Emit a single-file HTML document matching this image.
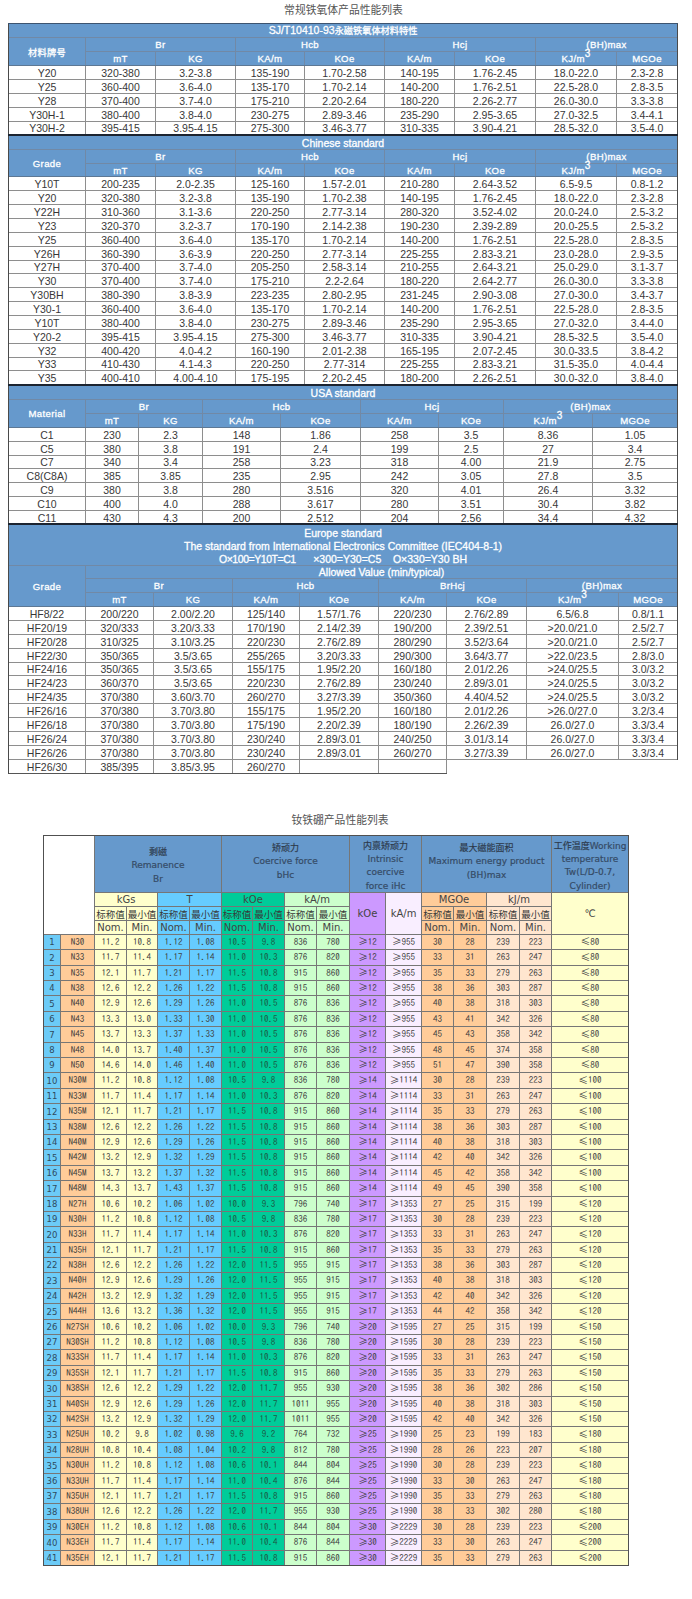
<!DOCTYPE html>
<html><head><meta charset="utf-8"><title>产品性能列表</title>
<style>
html,body{margin:0;padding:0;background:#fff;}
body{width:692px;height:1599px;position:relative;overflow:hidden;font-family:"Liberation Sans","Noto Sans CJK SC",sans-serif;}
.b{position:absolute;box-sizing:border-box;}
.t{position:absolute;display:flex;align-items:center;justify-content:center;white-space:nowrap;box-sizing:border-box;}
.ttl{font-size:10.8px;color:#555;font-family:"Noto Sans CJK SC",sans-serif;}
.th{color:#fff;font-size:9.6px;letter-spacing:0.35px;-webkit-text-stroke:0.3px #fff;}
.tt{color:#fff;font-size:10.5px;-webkit-text-stroke:0.3px #fff;}
.t1{padding-bottom:1px;}
.tt .c,.th .c{font-size:9.2px;}
.th sup{font-size:10px;position:relative;top:-4.5px;vertical-align:baseline;line-height:0;letter-spacing:0;}
.td{color:#383838;font-size:10.5px;}
.h2{color:#354b66;font-size:9px;font-family:"DejaVu Sans","Noto Sans CJK SC",sans-serif;-webkit-text-stroke:0.2px #354b66;}
.h2 .cj{font-family:"Noto Sans CJK SC",sans-serif;font-size:9px;color:#2a3340;}
.u2{color:#444;font-size:10px;font-family:"DejaVu Sans","Noto Sans CJK SC",sans-serif;}
.c2{color:#383838;font-size:9.5px;font-family:"Noto Sans CJK SC",sans-serif;}
.ix{color:#2f4a5e;font-size:8.5px;font-family:"DejaVu Sans",sans-serif;}
.gd{color:#3a3a3a;font-size:9px;font-family:"IPAGothic",monospace;padding-bottom:2px;}
.nm{color:#404040;font-size:9px;font-family:"IPAGothic",monospace;padding-bottom:2px;}
.gr{color:#1d5844;}
.g{font-family:"Noto Sans CJK SC",sans-serif;font-size:9.5px;}
</style></head><body>
<div class="t ttl" style="left:0;top:1px;width:687px;height:15px">常规铁氧体产品性能列表</div>
<div class="b" style="left:8px;top:23px;width:670px;height:43px;background:#6699cc;"></div>
<div class="t tt t1" style="left:9px;top:24px;width:668px;height:13px;">SJ/T10410-93<span class="c">永磁铁氧体材料特性</span></div>
<div class="b" style="left:8px;top:37px;width:670px;height:1px;background:#7189a6"></div>
<div class="b" style="left:85px;top:51px;width:593px;height:1px;background:#7189a6"></div>
<div class="b" style="left:85px;top:37px;width:1px;height:29px;background:#7189a6"></div>
<div class="b" style="left:235px;top:37px;width:1px;height:29px;background:#7189a6"></div>
<div class="b" style="left:384px;top:37px;width:1px;height:29px;background:#7189a6"></div>
<div class="b" style="left:535px;top:37px;width:1px;height:29px;background:#7189a6"></div>
<div class="b" style="left:155px;top:51px;width:1px;height:15px;background:#7189a6"></div>
<div class="b" style="left:304px;top:51px;width:1px;height:15px;background:#7189a6"></div>
<div class="b" style="left:454px;top:51px;width:1px;height:15px;background:#7189a6"></div>
<div class="b" style="left:616px;top:51px;width:1px;height:15px;background:#7189a6"></div>
<div class="t th" style="left:9px;top:38px;width:76px;height:27px;"><span class="c">材料牌号</span></div>
<div class="t th" style="left:86px;top:38px;width:149px;height:13px;">Br</div>
<div class="t th" style="left:236px;top:38px;width:148px;height:13px;">Hcb</div>
<div class="t th" style="left:385px;top:38px;width:150px;height:13px;">Hcj</div>
<div class="t th" style="left:536px;top:38px;width:141px;height:13px;">(BH)max</div>
<div class="t th" style="left:86px;top:52px;width:69px;height:13px;">mT</div>
<div class="t th" style="left:156px;top:52px;width:79px;height:13px;">KG</div>
<div class="t th" style="left:236px;top:52px;width:68px;height:13px;">KA/m</div>
<div class="t th" style="left:305px;top:52px;width:79px;height:13px;">KOe</div>
<div class="t th" style="left:385px;top:52px;width:69px;height:13px;">KA/m</div>
<div class="t th" style="left:455px;top:52px;width:80px;height:13px;">KOe</div>
<div class="t th" style="left:536px;top:52px;width:80px;height:13px;">KJ/m<sup>3</sup></div>
<div class="t th" style="left:617px;top:52px;width:60px;height:13px;">MGOe</div>
<div class="t td" style="left:9px;top:66px;width:76px;height:13px;">Y20</div>
<div class="t td" style="left:86px;top:66px;width:69px;height:13px;">320-380</div>
<div class="t td" style="left:156px;top:66px;width:79px;height:13px;">3.2-3.8</div>
<div class="t td" style="left:236px;top:66px;width:68px;height:13px;">135-190</div>
<div class="t td" style="left:305px;top:66px;width:79px;height:13px;">1.70-2.58</div>
<div class="t td" style="left:385px;top:66px;width:69px;height:13px;">140-195</div>
<div class="t td" style="left:455px;top:66px;width:80px;height:13px;">1.76-2.45</div>
<div class="t td" style="left:536px;top:66px;width:80px;height:13px;">18.0-22.0</div>
<div class="t td" style="left:617px;top:66px;width:60px;height:13px;">2.3-2.8</div>
<div class="t td" style="left:9px;top:80px;width:76px;height:13px;">Y25</div>
<div class="t td" style="left:86px;top:80px;width:69px;height:13px;">360-400</div>
<div class="t td" style="left:156px;top:80px;width:79px;height:13px;">3.6-4.0</div>
<div class="t td" style="left:236px;top:80px;width:68px;height:13px;">135-170</div>
<div class="t td" style="left:305px;top:80px;width:79px;height:13px;">1.70-2.14</div>
<div class="t td" style="left:385px;top:80px;width:69px;height:13px;">140-200</div>
<div class="t td" style="left:455px;top:80px;width:80px;height:13px;">1.76-2.51</div>
<div class="t td" style="left:536px;top:80px;width:80px;height:13px;">22.5-28.0</div>
<div class="t td" style="left:617px;top:80px;width:60px;height:13px;">2.8-3.5</div>
<div class="t td" style="left:9px;top:94px;width:76px;height:13px;">Y28</div>
<div class="t td" style="left:86px;top:94px;width:69px;height:13px;">370-400</div>
<div class="t td" style="left:156px;top:94px;width:79px;height:13px;">3.7-4.0</div>
<div class="t td" style="left:236px;top:94px;width:68px;height:13px;">175-210</div>
<div class="t td" style="left:305px;top:94px;width:79px;height:13px;">2.20-2.64</div>
<div class="t td" style="left:385px;top:94px;width:69px;height:13px;">180-220</div>
<div class="t td" style="left:455px;top:94px;width:80px;height:13px;">2.26-2.77</div>
<div class="t td" style="left:536px;top:94px;width:80px;height:13px;">26.0-30.0</div>
<div class="t td" style="left:617px;top:94px;width:60px;height:13px;">3.3-3.8</div>
<div class="t td" style="left:9px;top:108px;width:76px;height:13px;">Y30H-1</div>
<div class="t td" style="left:86px;top:108px;width:69px;height:13px;">380-400</div>
<div class="t td" style="left:156px;top:108px;width:79px;height:13px;">3.8-4.0</div>
<div class="t td" style="left:236px;top:108px;width:68px;height:13px;">230-275</div>
<div class="t td" style="left:305px;top:108px;width:79px;height:13px;">2.89-3.46</div>
<div class="t td" style="left:385px;top:108px;width:69px;height:13px;">235-290</div>
<div class="t td" style="left:455px;top:108px;width:80px;height:13px;">2.95-3.65</div>
<div class="t td" style="left:536px;top:108px;width:80px;height:13px;">27.0-32.5</div>
<div class="t td" style="left:617px;top:108px;width:60px;height:13px;">3.4-4.1</div>
<div class="t td" style="left:9px;top:122px;width:76px;height:12px;">Y30H-2</div>
<div class="t td" style="left:86px;top:122px;width:69px;height:12px;">395-415</div>
<div class="t td" style="left:156px;top:122px;width:79px;height:12px;">3.95-4.15</div>
<div class="t td" style="left:236px;top:122px;width:68px;height:12px;">275-300</div>
<div class="t td" style="left:305px;top:122px;width:79px;height:12px;">3.46-3.77</div>
<div class="t td" style="left:385px;top:122px;width:69px;height:12px;">310-335</div>
<div class="t td" style="left:455px;top:122px;width:80px;height:12px;">3.90-4.21</div>
<div class="t td" style="left:536px;top:122px;width:80px;height:12px;">28.5-32.0</div>
<div class="t td" style="left:617px;top:122px;width:60px;height:12px;">3.5-4.0</div>
<div class="b" style="left:8px;top:79px;width:670px;height:1px;background:#8e8e8e"></div>
<div class="b" style="left:8px;top:93px;width:670px;height:1px;background:#8e8e8e"></div>
<div class="b" style="left:8px;top:107px;width:670px;height:1px;background:#8e8e8e"></div>
<div class="b" style="left:8px;top:121px;width:670px;height:1px;background:#8e8e8e"></div>
<div class="b" style="left:85px;top:65px;width:1px;height:70px;background:#8e8e8e"></div>
<div class="b" style="left:155px;top:65px;width:1px;height:70px;background:#8e8e8e"></div>
<div class="b" style="left:235px;top:65px;width:1px;height:70px;background:#8e8e8e"></div>
<div class="b" style="left:304px;top:65px;width:1px;height:70px;background:#8e8e8e"></div>
<div class="b" style="left:384px;top:65px;width:1px;height:70px;background:#8e8e8e"></div>
<div class="b" style="left:454px;top:65px;width:1px;height:70px;background:#8e8e8e"></div>
<div class="b" style="left:535px;top:65px;width:1px;height:70px;background:#8e8e8e"></div>
<div class="b" style="left:616px;top:65px;width:1px;height:70px;background:#8e8e8e"></div>
<div class="b" style="left:8px;top:65px;width:670px;height:1px;background:#5d7894"></div>
<div class="b" style="left:8px;top:136px;width:670px;height:41px;background:#6699cc;"></div>
<div class="t tt t1" style="left:9px;top:137px;width:668px;height:12px;">Chinese standard</div>
<div class="b" style="left:8px;top:149px;width:670px;height:1px;background:#7189a6"></div>
<div class="b" style="left:85px;top:163px;width:593px;height:1px;background:#7189a6"></div>
<div class="b" style="left:85px;top:149px;width:1px;height:28px;background:#7189a6"></div>
<div class="b" style="left:235px;top:149px;width:1px;height:28px;background:#7189a6"></div>
<div class="b" style="left:384px;top:149px;width:1px;height:28px;background:#7189a6"></div>
<div class="b" style="left:535px;top:149px;width:1px;height:28px;background:#7189a6"></div>
<div class="b" style="left:155px;top:163px;width:1px;height:14px;background:#7189a6"></div>
<div class="b" style="left:304px;top:163px;width:1px;height:14px;background:#7189a6"></div>
<div class="b" style="left:454px;top:163px;width:1px;height:14px;background:#7189a6"></div>
<div class="b" style="left:616px;top:163px;width:1px;height:14px;background:#7189a6"></div>
<div class="t th" style="left:9px;top:150px;width:76px;height:26px;">Grade</div>
<div class="t th" style="left:86px;top:150px;width:149px;height:13px;">Br</div>
<div class="t th" style="left:236px;top:150px;width:148px;height:13px;">Hcb</div>
<div class="t th" style="left:385px;top:150px;width:150px;height:13px;">Hcj</div>
<div class="t th" style="left:536px;top:150px;width:141px;height:13px;">(BH)max</div>
<div class="t th" style="left:86px;top:164px;width:69px;height:12px;">mT</div>
<div class="t th" style="left:156px;top:164px;width:79px;height:12px;">KG</div>
<div class="t th" style="left:236px;top:164px;width:68px;height:12px;">KA/m</div>
<div class="t th" style="left:305px;top:164px;width:79px;height:12px;">KOe</div>
<div class="t th" style="left:385px;top:164px;width:69px;height:12px;">KA/m</div>
<div class="t th" style="left:455px;top:164px;width:80px;height:12px;">KOe</div>
<div class="t th" style="left:536px;top:164px;width:80px;height:12px;">KJ/m<sup>3</sup></div>
<div class="t th" style="left:617px;top:164px;width:60px;height:12px;">MGOe</div>
<div class="t td" style="left:9px;top:177px;width:76px;height:13px;">Y10T</div>
<div class="t td" style="left:86px;top:177px;width:69px;height:13px;">200-235</div>
<div class="t td" style="left:156px;top:177px;width:79px;height:13px;">2.0-2.35</div>
<div class="t td" style="left:236px;top:177px;width:68px;height:13px;">125-160</div>
<div class="t td" style="left:305px;top:177px;width:79px;height:13px;">1.57-2.01</div>
<div class="t td" style="left:385px;top:177px;width:69px;height:13px;">210-280</div>
<div class="t td" style="left:455px;top:177px;width:80px;height:13px;">2.64-3.52</div>
<div class="t td" style="left:536px;top:177px;width:80px;height:13px;">6.5-9.5</div>
<div class="t td" style="left:617px;top:177px;width:60px;height:13px;">0.8-1.2</div>
<div class="t td" style="left:9px;top:191px;width:76px;height:13px;">Y20</div>
<div class="t td" style="left:86px;top:191px;width:69px;height:13px;">320-380</div>
<div class="t td" style="left:156px;top:191px;width:79px;height:13px;">3.2-3.8</div>
<div class="t td" style="left:236px;top:191px;width:68px;height:13px;">135-190</div>
<div class="t td" style="left:305px;top:191px;width:79px;height:13px;">1.70-2.38</div>
<div class="t td" style="left:385px;top:191px;width:69px;height:13px;">140-195</div>
<div class="t td" style="left:455px;top:191px;width:80px;height:13px;">1.76-2.45</div>
<div class="t td" style="left:536px;top:191px;width:80px;height:13px;">18.0-22.0</div>
<div class="t td" style="left:617px;top:191px;width:60px;height:13px;">2.3-2.8</div>
<div class="t td" style="left:9px;top:205px;width:76px;height:13px;">Y22H</div>
<div class="t td" style="left:86px;top:205px;width:69px;height:13px;">310-360</div>
<div class="t td" style="left:156px;top:205px;width:79px;height:13px;">3.1-3.6</div>
<div class="t td" style="left:236px;top:205px;width:68px;height:13px;">220-250</div>
<div class="t td" style="left:305px;top:205px;width:79px;height:13px;">2.77-3.14</div>
<div class="t td" style="left:385px;top:205px;width:69px;height:13px;">280-320</div>
<div class="t td" style="left:455px;top:205px;width:80px;height:13px;">3.52-4.02</div>
<div class="t td" style="left:536px;top:205px;width:80px;height:13px;">20.0-24.0</div>
<div class="t td" style="left:617px;top:205px;width:60px;height:13px;">2.5-3.2</div>
<div class="t td" style="left:9px;top:219px;width:76px;height:13px;">Y23</div>
<div class="t td" style="left:86px;top:219px;width:69px;height:13px;">320-370</div>
<div class="t td" style="left:156px;top:219px;width:79px;height:13px;">3.2-3.7</div>
<div class="t td" style="left:236px;top:219px;width:68px;height:13px;">170-190</div>
<div class="t td" style="left:305px;top:219px;width:79px;height:13px;">2.14-2.38</div>
<div class="t td" style="left:385px;top:219px;width:69px;height:13px;">190-230</div>
<div class="t td" style="left:455px;top:219px;width:80px;height:13px;">2.39-2.89</div>
<div class="t td" style="left:536px;top:219px;width:80px;height:13px;">20.0-25.5</div>
<div class="t td" style="left:617px;top:219px;width:60px;height:13px;">2.5-3.2</div>
<div class="t td" style="left:9px;top:233px;width:76px;height:13px;">Y25</div>
<div class="t td" style="left:86px;top:233px;width:69px;height:13px;">360-400</div>
<div class="t td" style="left:156px;top:233px;width:79px;height:13px;">3.6-4.0</div>
<div class="t td" style="left:236px;top:233px;width:68px;height:13px;">135-170</div>
<div class="t td" style="left:305px;top:233px;width:79px;height:13px;">1.70-2.14</div>
<div class="t td" style="left:385px;top:233px;width:69px;height:13px;">140-200</div>
<div class="t td" style="left:455px;top:233px;width:80px;height:13px;">1.76-2.51</div>
<div class="t td" style="left:536px;top:233px;width:80px;height:13px;">22.5-28.0</div>
<div class="t td" style="left:617px;top:233px;width:60px;height:13px;">2.8-3.5</div>
<div class="t td" style="left:9px;top:247px;width:76px;height:13px;">Y26H</div>
<div class="t td" style="left:86px;top:247px;width:69px;height:13px;">360-390</div>
<div class="t td" style="left:156px;top:247px;width:79px;height:13px;">3.6-3.9</div>
<div class="t td" style="left:236px;top:247px;width:68px;height:13px;">220-250</div>
<div class="t td" style="left:305px;top:247px;width:79px;height:13px;">2.77-3.14</div>
<div class="t td" style="left:385px;top:247px;width:69px;height:13px;">225-255</div>
<div class="t td" style="left:455px;top:247px;width:80px;height:13px;">2.83-3.21</div>
<div class="t td" style="left:536px;top:247px;width:80px;height:13px;">23.0-28.0</div>
<div class="t td" style="left:617px;top:247px;width:60px;height:13px;">2.9-3.5</div>
<div class="t td" style="left:9px;top:261px;width:76px;height:12px;">Y27H</div>
<div class="t td" style="left:86px;top:261px;width:69px;height:12px;">370-400</div>
<div class="t td" style="left:156px;top:261px;width:79px;height:12px;">3.7-4.0</div>
<div class="t td" style="left:236px;top:261px;width:68px;height:12px;">205-250</div>
<div class="t td" style="left:305px;top:261px;width:79px;height:12px;">2.58-3.14</div>
<div class="t td" style="left:385px;top:261px;width:69px;height:12px;">210-255</div>
<div class="t td" style="left:455px;top:261px;width:80px;height:12px;">2.64-3.21</div>
<div class="t td" style="left:536px;top:261px;width:80px;height:12px;">25.0-29.0</div>
<div class="t td" style="left:617px;top:261px;width:60px;height:12px;">3.1-3.7</div>
<div class="t td" style="left:9px;top:274px;width:76px;height:13px;">Y30</div>
<div class="t td" style="left:86px;top:274px;width:69px;height:13px;">370-400</div>
<div class="t td" style="left:156px;top:274px;width:79px;height:13px;">3.7-4.0</div>
<div class="t td" style="left:236px;top:274px;width:68px;height:13px;">175-210</div>
<div class="t td" style="left:305px;top:274px;width:79px;height:13px;">2.2-2.64</div>
<div class="t td" style="left:385px;top:274px;width:69px;height:13px;">180-220</div>
<div class="t td" style="left:455px;top:274px;width:80px;height:13px;">2.64-2.77</div>
<div class="t td" style="left:536px;top:274px;width:80px;height:13px;">26.0-30.0</div>
<div class="t td" style="left:617px;top:274px;width:60px;height:13px;">3.3-3.8</div>
<div class="t td" style="left:9px;top:288px;width:76px;height:13px;">Y30BH</div>
<div class="t td" style="left:86px;top:288px;width:69px;height:13px;">380-390</div>
<div class="t td" style="left:156px;top:288px;width:79px;height:13px;">3.8-3.9</div>
<div class="t td" style="left:236px;top:288px;width:68px;height:13px;">223-235</div>
<div class="t td" style="left:305px;top:288px;width:79px;height:13px;">2.80-2.95</div>
<div class="t td" style="left:385px;top:288px;width:69px;height:13px;">231-245</div>
<div class="t td" style="left:455px;top:288px;width:80px;height:13px;">2.90-3.08</div>
<div class="t td" style="left:536px;top:288px;width:80px;height:13px;">27.0-30.0</div>
<div class="t td" style="left:617px;top:288px;width:60px;height:13px;">3.4-3.7</div>
<div class="t td" style="left:9px;top:302px;width:76px;height:13px;">Y30-1</div>
<div class="t td" style="left:86px;top:302px;width:69px;height:13px;">360-400</div>
<div class="t td" style="left:156px;top:302px;width:79px;height:13px;">3.6-4.0</div>
<div class="t td" style="left:236px;top:302px;width:68px;height:13px;">135-170</div>
<div class="t td" style="left:305px;top:302px;width:79px;height:13px;">1.70-2.14</div>
<div class="t td" style="left:385px;top:302px;width:69px;height:13px;">140-200</div>
<div class="t td" style="left:455px;top:302px;width:80px;height:13px;">1.76-2.51</div>
<div class="t td" style="left:536px;top:302px;width:80px;height:13px;">22.5-28.0</div>
<div class="t td" style="left:617px;top:302px;width:60px;height:13px;">2.8-3.5</div>
<div class="t td" style="left:9px;top:316px;width:76px;height:13px;">Y10T</div>
<div class="t td" style="left:86px;top:316px;width:69px;height:13px;">380-400</div>
<div class="t td" style="left:156px;top:316px;width:79px;height:13px;">3.8-4.0</div>
<div class="t td" style="left:236px;top:316px;width:68px;height:13px;">230-275</div>
<div class="t td" style="left:305px;top:316px;width:79px;height:13px;">2.89-3.46</div>
<div class="t td" style="left:385px;top:316px;width:69px;height:13px;">235-290</div>
<div class="t td" style="left:455px;top:316px;width:80px;height:13px;">2.95-3.65</div>
<div class="t td" style="left:536px;top:316px;width:80px;height:13px;">27.0-32.0</div>
<div class="t td" style="left:617px;top:316px;width:60px;height:13px;">3.4-4.0</div>
<div class="t td" style="left:9px;top:330px;width:76px;height:13px;">Y20-2</div>
<div class="t td" style="left:86px;top:330px;width:69px;height:13px;">395-415</div>
<div class="t td" style="left:156px;top:330px;width:79px;height:13px;">3.95-4.15</div>
<div class="t td" style="left:236px;top:330px;width:68px;height:13px;">275-300</div>
<div class="t td" style="left:305px;top:330px;width:79px;height:13px;">3.46-3.77</div>
<div class="t td" style="left:385px;top:330px;width:69px;height:13px;">310-335</div>
<div class="t td" style="left:455px;top:330px;width:80px;height:13px;">3.90-4.21</div>
<div class="t td" style="left:536px;top:330px;width:80px;height:13px;">28.5-32.5</div>
<div class="t td" style="left:617px;top:330px;width:60px;height:13px;">3.5-4.0</div>
<div class="t td" style="left:9px;top:344px;width:76px;height:13px;">Y32</div>
<div class="t td" style="left:86px;top:344px;width:69px;height:13px;">400-420</div>
<div class="t td" style="left:156px;top:344px;width:79px;height:13px;">4.0-4.2</div>
<div class="t td" style="left:236px;top:344px;width:68px;height:13px;">160-190</div>
<div class="t td" style="left:305px;top:344px;width:79px;height:13px;">2.01-2.38</div>
<div class="t td" style="left:385px;top:344px;width:69px;height:13px;">165-195</div>
<div class="t td" style="left:455px;top:344px;width:80px;height:13px;">2.07-2.45</div>
<div class="t td" style="left:536px;top:344px;width:80px;height:13px;">30.0-33.5</div>
<div class="t td" style="left:617px;top:344px;width:60px;height:13px;">3.8-4.2</div>
<div class="t td" style="left:9px;top:358px;width:76px;height:12px;">Y33</div>
<div class="t td" style="left:86px;top:358px;width:69px;height:12px;">410-430</div>
<div class="t td" style="left:156px;top:358px;width:79px;height:12px;">4.1-4.3</div>
<div class="t td" style="left:236px;top:358px;width:68px;height:12px;">220-250</div>
<div class="t td" style="left:305px;top:358px;width:79px;height:12px;">2.77-314</div>
<div class="t td" style="left:385px;top:358px;width:69px;height:12px;">225-255</div>
<div class="t td" style="left:455px;top:358px;width:80px;height:12px;">2.83-3.21</div>
<div class="t td" style="left:536px;top:358px;width:80px;height:12px;">31.5-35.0</div>
<div class="t td" style="left:617px;top:358px;width:60px;height:12px;">4.0-4.4</div>
<div class="t td" style="left:9px;top:371px;width:76px;height:13px;">Y35</div>
<div class="t td" style="left:86px;top:371px;width:69px;height:13px;">400-410</div>
<div class="t td" style="left:156px;top:371px;width:79px;height:13px;">4.00-4.10</div>
<div class="t td" style="left:236px;top:371px;width:68px;height:13px;">175-195</div>
<div class="t td" style="left:305px;top:371px;width:79px;height:13px;">2.20-2.45</div>
<div class="t td" style="left:385px;top:371px;width:69px;height:13px;">180-200</div>
<div class="t td" style="left:455px;top:371px;width:80px;height:13px;">2.26-2.51</div>
<div class="t td" style="left:536px;top:371px;width:80px;height:13px;">30.0-32.0</div>
<div class="t td" style="left:617px;top:371px;width:60px;height:13px;">3.8-4.0</div>
<div class="b" style="left:8px;top:190px;width:670px;height:1px;background:#8e8e8e"></div>
<div class="b" style="left:8px;top:204px;width:670px;height:1px;background:#8e8e8e"></div>
<div class="b" style="left:8px;top:218px;width:670px;height:1px;background:#8e8e8e"></div>
<div class="b" style="left:8px;top:232px;width:670px;height:1px;background:#8e8e8e"></div>
<div class="b" style="left:8px;top:246px;width:670px;height:1px;background:#8e8e8e"></div>
<div class="b" style="left:8px;top:260px;width:670px;height:1px;background:#8e8e8e"></div>
<div class="b" style="left:8px;top:273px;width:670px;height:1px;background:#8e8e8e"></div>
<div class="b" style="left:8px;top:287px;width:670px;height:1px;background:#8e8e8e"></div>
<div class="b" style="left:8px;top:301px;width:670px;height:1px;background:#8e8e8e"></div>
<div class="b" style="left:8px;top:315px;width:670px;height:1px;background:#8e8e8e"></div>
<div class="b" style="left:8px;top:329px;width:670px;height:1px;background:#8e8e8e"></div>
<div class="b" style="left:8px;top:343px;width:670px;height:1px;background:#8e8e8e"></div>
<div class="b" style="left:8px;top:357px;width:670px;height:1px;background:#8e8e8e"></div>
<div class="b" style="left:8px;top:370px;width:670px;height:1px;background:#8e8e8e"></div>
<div class="b" style="left:85px;top:176px;width:1px;height:209px;background:#8e8e8e"></div>
<div class="b" style="left:155px;top:176px;width:1px;height:209px;background:#8e8e8e"></div>
<div class="b" style="left:235px;top:176px;width:1px;height:209px;background:#8e8e8e"></div>
<div class="b" style="left:304px;top:176px;width:1px;height:209px;background:#8e8e8e"></div>
<div class="b" style="left:384px;top:176px;width:1px;height:209px;background:#8e8e8e"></div>
<div class="b" style="left:454px;top:176px;width:1px;height:209px;background:#8e8e8e"></div>
<div class="b" style="left:535px;top:176px;width:1px;height:209px;background:#8e8e8e"></div>
<div class="b" style="left:616px;top:176px;width:1px;height:209px;background:#8e8e8e"></div>
<div class="b" style="left:8px;top:176px;width:670px;height:1px;background:#5d7894"></div>
<div class="b" style="left:8px;top:386px;width:670px;height:42px;background:#6699cc;"></div>
<div class="t tt t1" style="left:9px;top:387px;width:668px;height:12px;">USA standard</div>
<div class="b" style="left:8px;top:399px;width:670px;height:1px;background:#7189a6"></div>
<div class="b" style="left:85px;top:413px;width:593px;height:1px;background:#7189a6"></div>
<div class="b" style="left:85px;top:399px;width:1px;height:29px;background:#7189a6"></div>
<div class="b" style="left:202px;top:399px;width:1px;height:29px;background:#7189a6"></div>
<div class="b" style="left:360px;top:399px;width:1px;height:29px;background:#7189a6"></div>
<div class="b" style="left:503px;top:399px;width:1px;height:29px;background:#7189a6"></div>
<div class="b" style="left:138px;top:413px;width:1px;height:15px;background:#7189a6"></div>
<div class="b" style="left:280px;top:413px;width:1px;height:15px;background:#7189a6"></div>
<div class="b" style="left:438px;top:413px;width:1px;height:15px;background:#7189a6"></div>
<div class="b" style="left:592px;top:413px;width:1px;height:15px;background:#7189a6"></div>
<div class="t th" style="left:9px;top:400px;width:76px;height:27px;">Material</div>
<div class="t th" style="left:86px;top:400px;width:116px;height:13px;">Br</div>
<div class="t th" style="left:203px;top:400px;width:157px;height:13px;">Hcb</div>
<div class="t th" style="left:361px;top:400px;width:142px;height:13px;">Hcj</div>
<div class="t th" style="left:504px;top:400px;width:173px;height:13px;">(BH)max</div>
<div class="t th" style="left:86px;top:414px;width:52px;height:13px;">mT</div>
<div class="t th" style="left:139px;top:414px;width:63px;height:13px;">KG</div>
<div class="t th" style="left:203px;top:414px;width:77px;height:13px;">KA/m</div>
<div class="t th" style="left:281px;top:414px;width:79px;height:13px;">KOe</div>
<div class="t th" style="left:361px;top:414px;width:77px;height:13px;">KA/m</div>
<div class="t th" style="left:439px;top:414px;width:64px;height:13px;">KOe</div>
<div class="t th" style="left:504px;top:414px;width:88px;height:13px;">KJ/m<sup>3</sup></div>
<div class="t th" style="left:593px;top:414px;width:84px;height:13px;">MGOe</div>
<div class="t td" style="left:9px;top:428px;width:76px;height:13px;">C1</div>
<div class="t td" style="left:86px;top:428px;width:52px;height:13px;">230</div>
<div class="t td" style="left:139px;top:428px;width:63px;height:13px;">2.3</div>
<div class="t td" style="left:203px;top:428px;width:77px;height:13px;">148</div>
<div class="t td" style="left:281px;top:428px;width:79px;height:13px;">1.86</div>
<div class="t td" style="left:361px;top:428px;width:77px;height:13px;">258</div>
<div class="t td" style="left:439px;top:428px;width:64px;height:13px;">3.5</div>
<div class="t td" style="left:504px;top:428px;width:88px;height:13px;">8.36</div>
<div class="t td" style="left:593px;top:428px;width:84px;height:13px;">1.05</div>
<div class="t td" style="left:9px;top:442px;width:76px;height:13px;">C5</div>
<div class="t td" style="left:86px;top:442px;width:52px;height:13px;">380</div>
<div class="t td" style="left:139px;top:442px;width:63px;height:13px;">3.8</div>
<div class="t td" style="left:203px;top:442px;width:77px;height:13px;">191</div>
<div class="t td" style="left:281px;top:442px;width:79px;height:13px;">2.4</div>
<div class="t td" style="left:361px;top:442px;width:77px;height:13px;">199</div>
<div class="t td" style="left:439px;top:442px;width:64px;height:13px;">2.5</div>
<div class="t td" style="left:504px;top:442px;width:88px;height:13px;">27</div>
<div class="t td" style="left:593px;top:442px;width:84px;height:13px;">3.4</div>
<div class="t td" style="left:9px;top:456px;width:76px;height:12px;">C7</div>
<div class="t td" style="left:86px;top:456px;width:52px;height:12px;">340</div>
<div class="t td" style="left:139px;top:456px;width:63px;height:12px;">3.4</div>
<div class="t td" style="left:203px;top:456px;width:77px;height:12px;">258</div>
<div class="t td" style="left:281px;top:456px;width:79px;height:12px;">3.23</div>
<div class="t td" style="left:361px;top:456px;width:77px;height:12px;">318</div>
<div class="t td" style="left:439px;top:456px;width:64px;height:12px;">4.00</div>
<div class="t td" style="left:504px;top:456px;width:88px;height:12px;">21.9</div>
<div class="t td" style="left:593px;top:456px;width:84px;height:12px;">2.75</div>
<div class="t td" style="left:9px;top:469px;width:76px;height:13px;">C8(C8A)</div>
<div class="t td" style="left:86px;top:469px;width:52px;height:13px;">385</div>
<div class="t td" style="left:139px;top:469px;width:63px;height:13px;">3.85</div>
<div class="t td" style="left:203px;top:469px;width:77px;height:13px;">235</div>
<div class="t td" style="left:281px;top:469px;width:79px;height:13px;">2.95</div>
<div class="t td" style="left:361px;top:469px;width:77px;height:13px;">242</div>
<div class="t td" style="left:439px;top:469px;width:64px;height:13px;">3.05</div>
<div class="t td" style="left:504px;top:469px;width:88px;height:13px;">27.8</div>
<div class="t td" style="left:593px;top:469px;width:84px;height:13px;">3.5</div>
<div class="t td" style="left:9px;top:483px;width:76px;height:13px;">C9</div>
<div class="t td" style="left:86px;top:483px;width:52px;height:13px;">380</div>
<div class="t td" style="left:139px;top:483px;width:63px;height:13px;">3.8</div>
<div class="t td" style="left:203px;top:483px;width:77px;height:13px;">280</div>
<div class="t td" style="left:281px;top:483px;width:79px;height:13px;">3.516</div>
<div class="t td" style="left:361px;top:483px;width:77px;height:13px;">320</div>
<div class="t td" style="left:439px;top:483px;width:64px;height:13px;">4.01</div>
<div class="t td" style="left:504px;top:483px;width:88px;height:13px;">26.4</div>
<div class="t td" style="left:593px;top:483px;width:84px;height:13px;">3.32</div>
<div class="t td" style="left:9px;top:497px;width:76px;height:13px;">C10</div>
<div class="t td" style="left:86px;top:497px;width:52px;height:13px;">400</div>
<div class="t td" style="left:139px;top:497px;width:63px;height:13px;">4.0</div>
<div class="t td" style="left:203px;top:497px;width:77px;height:13px;">288</div>
<div class="t td" style="left:281px;top:497px;width:79px;height:13px;">3.617</div>
<div class="t td" style="left:361px;top:497px;width:77px;height:13px;">280</div>
<div class="t td" style="left:439px;top:497px;width:64px;height:13px;">3.51</div>
<div class="t td" style="left:504px;top:497px;width:88px;height:13px;">30.4</div>
<div class="t td" style="left:593px;top:497px;width:84px;height:13px;">3.82</div>
<div class="t td" style="left:9px;top:511px;width:76px;height:13px;">C11</div>
<div class="t td" style="left:86px;top:511px;width:52px;height:13px;">430</div>
<div class="t td" style="left:139px;top:511px;width:63px;height:13px;">4.3</div>
<div class="t td" style="left:203px;top:511px;width:77px;height:13px;">200</div>
<div class="t td" style="left:281px;top:511px;width:79px;height:13px;">2.512</div>
<div class="t td" style="left:361px;top:511px;width:77px;height:13px;">204</div>
<div class="t td" style="left:439px;top:511px;width:64px;height:13px;">2.56</div>
<div class="t td" style="left:504px;top:511px;width:88px;height:13px;">34.4</div>
<div class="t td" style="left:593px;top:511px;width:84px;height:13px;">4.32</div>
<div class="b" style="left:8px;top:441px;width:670px;height:1px;background:#8e8e8e"></div>
<div class="b" style="left:8px;top:455px;width:670px;height:1px;background:#8e8e8e"></div>
<div class="b" style="left:8px;top:468px;width:670px;height:1px;background:#8e8e8e"></div>
<div class="b" style="left:8px;top:482px;width:670px;height:1px;background:#8e8e8e"></div>
<div class="b" style="left:8px;top:496px;width:670px;height:1px;background:#8e8e8e"></div>
<div class="b" style="left:8px;top:510px;width:670px;height:1px;background:#8e8e8e"></div>
<div class="b" style="left:85px;top:427px;width:1px;height:98px;background:#8e8e8e"></div>
<div class="b" style="left:138px;top:427px;width:1px;height:98px;background:#8e8e8e"></div>
<div class="b" style="left:202px;top:427px;width:1px;height:98px;background:#8e8e8e"></div>
<div class="b" style="left:280px;top:427px;width:1px;height:98px;background:#8e8e8e"></div>
<div class="b" style="left:360px;top:427px;width:1px;height:98px;background:#8e8e8e"></div>
<div class="b" style="left:438px;top:427px;width:1px;height:98px;background:#8e8e8e"></div>
<div class="b" style="left:503px;top:427px;width:1px;height:98px;background:#8e8e8e"></div>
<div class="b" style="left:592px;top:427px;width:1px;height:98px;background:#8e8e8e"></div>
<div class="b" style="left:8px;top:427px;width:670px;height:1px;background:#5d7894"></div>
<div class="b" style="left:8px;top:525px;width:670px;height:82px;background:#6699cc;"></div>
<div class="t tt" style="left:9px;top:527px;width:668px;height:12px;">Europe standard</div>
<div class="t tt" style="left:9px;top:540px;width:668px;height:12px;">The standard from International Electronics Committee (IEC404-8-1)</div>
<div class="t tt" style="left:9px;top:553px;width:668px;height:12px;"><span style="letter-spacing:-0.45px">O×100=Y10T=C1</span>&nbsp;&nbsp;&nbsp;&nbsp;&nbsp;&nbsp;×300=Y30=C5&nbsp;&nbsp;&nbsp;&nbsp;O×330=Y30 BH</div>
<div class="b" style="left:85px;top:578px;width:593px;height:1px;background:#7189a6"></div>
<div class="t tt" style="left:86px;top:566px;width:591px;height:12px;">Allowed Value (min/typical)</div>
<div class="b" style="left:8px;top:565px;width:670px;height:1px;background:#7189a6"></div>
<div class="b" style="left:85px;top:592px;width:593px;height:1px;background:#7189a6"></div>
<div class="b" style="left:85px;top:565px;width:1px;height:42px;background:#7189a6"></div>
<div class="b" style="left:232px;top:578px;width:1px;height:29px;background:#7189a6"></div>
<div class="b" style="left:378px;top:578px;width:1px;height:29px;background:#7189a6"></div>
<div class="b" style="left:526px;top:578px;width:1px;height:29px;background:#7189a6"></div>
<div class="b" style="left:153px;top:592px;width:1px;height:15px;background:#7189a6"></div>
<div class="b" style="left:299px;top:592px;width:1px;height:15px;background:#7189a6"></div>
<div class="b" style="left:446px;top:592px;width:1px;height:15px;background:#7189a6"></div>
<div class="b" style="left:618px;top:592px;width:1px;height:15px;background:#7189a6"></div>
<div class="t th" style="left:9px;top:566px;width:76px;height:40px;">Grade</div>
<div class="t th" style="left:86px;top:579px;width:146px;height:13px;">Br</div>
<div class="t th" style="left:233px;top:579px;width:145px;height:13px;">Hcb</div>
<div class="t th" style="left:379px;top:579px;width:147px;height:13px;">BrHcj</div>
<div class="t th" style="left:527px;top:579px;width:150px;height:13px;">(BH)max</div>
<div class="t th" style="left:86px;top:593px;width:67px;height:13px;">mT</div>
<div class="t th" style="left:154px;top:593px;width:78px;height:13px;">KG</div>
<div class="t th" style="left:233px;top:593px;width:66px;height:13px;">KA/m</div>
<div class="t th" style="left:300px;top:593px;width:78px;height:13px;">KOe</div>
<div class="t th" style="left:379px;top:593px;width:67px;height:13px;">KA/m</div>
<div class="t th" style="left:447px;top:593px;width:79px;height:13px;">KOe</div>
<div class="t th" style="left:527px;top:593px;width:91px;height:13px;">KJ/m<sup>3</sup></div>
<div class="t th" style="left:619px;top:593px;width:58px;height:13px;">MGOe</div>
<div class="t td" style="left:9px;top:607px;width:76px;height:13px;">HF8/22</div>
<div class="t td" style="left:86px;top:607px;width:67px;height:13px;">200/220</div>
<div class="t td" style="left:154px;top:607px;width:78px;height:13px;">2.00/2.20</div>
<div class="t td" style="left:233px;top:607px;width:66px;height:13px;">125/140</div>
<div class="t td" style="left:300px;top:607px;width:78px;height:13px;">1.57/1.76</div>
<div class="t td" style="left:379px;top:607px;width:67px;height:13px;">220/230</div>
<div class="t td" style="left:447px;top:607px;width:79px;height:13px;">2.76/2.89</div>
<div class="t td" style="left:527px;top:607px;width:91px;height:13px;">6.5/6.8</div>
<div class="t td" style="left:619px;top:607px;width:58px;height:13px;">0.8/1.1</div>
<div class="t td" style="left:9px;top:621px;width:76px;height:13px;">HF20/19</div>
<div class="t td" style="left:86px;top:621px;width:67px;height:13px;">320/333</div>
<div class="t td" style="left:154px;top:621px;width:78px;height:13px;">3.20/3.33</div>
<div class="t td" style="left:233px;top:621px;width:66px;height:13px;">170/190</div>
<div class="t td" style="left:300px;top:621px;width:78px;height:13px;">2.14/2.39</div>
<div class="t td" style="left:379px;top:621px;width:67px;height:13px;">190/200</div>
<div class="t td" style="left:447px;top:621px;width:79px;height:13px;">2.39/2.51</div>
<div class="t td" style="left:527px;top:621px;width:91px;height:13px;">&gt;20.0/21.0</div>
<div class="t td" style="left:619px;top:621px;width:58px;height:13px;">2.5/2.7</div>
<div class="t td" style="left:9px;top:635px;width:76px;height:13px;">HF20/28</div>
<div class="t td" style="left:86px;top:635px;width:67px;height:13px;">310/325</div>
<div class="t td" style="left:154px;top:635px;width:78px;height:13px;">3.10/3.25</div>
<div class="t td" style="left:233px;top:635px;width:66px;height:13px;">220/230</div>
<div class="t td" style="left:300px;top:635px;width:78px;height:13px;">2.76/2.89</div>
<div class="t td" style="left:379px;top:635px;width:67px;height:13px;">280/290</div>
<div class="t td" style="left:447px;top:635px;width:79px;height:13px;">3.52/3.64</div>
<div class="t td" style="left:527px;top:635px;width:91px;height:13px;">&gt;20.0/21.0</div>
<div class="t td" style="left:619px;top:635px;width:58px;height:13px;">2.5/2.7</div>
<div class="t td" style="left:9px;top:649px;width:76px;height:13px;">HF22/30</div>
<div class="t td" style="left:86px;top:649px;width:67px;height:13px;">350/365</div>
<div class="t td" style="left:154px;top:649px;width:78px;height:13px;">3.5/3.65</div>
<div class="t td" style="left:233px;top:649px;width:66px;height:13px;">255/265</div>
<div class="t td" style="left:300px;top:649px;width:78px;height:13px;">3.20/3.33</div>
<div class="t td" style="left:379px;top:649px;width:67px;height:13px;">290/300</div>
<div class="t td" style="left:447px;top:649px;width:79px;height:13px;">3.64/3.77</div>
<div class="t td" style="left:527px;top:649px;width:91px;height:13px;">&gt;22.0/23.5</div>
<div class="t td" style="left:619px;top:649px;width:58px;height:13px;">2.8/3.0</div>
<div class="t td" style="left:9px;top:663px;width:76px;height:12px;">HF24/16</div>
<div class="t td" style="left:86px;top:663px;width:67px;height:12px;">350/365</div>
<div class="t td" style="left:154px;top:663px;width:78px;height:12px;">3.5/3.65</div>
<div class="t td" style="left:233px;top:663px;width:66px;height:12px;">155/175</div>
<div class="t td" style="left:300px;top:663px;width:78px;height:12px;">1.95/2.20</div>
<div class="t td" style="left:379px;top:663px;width:67px;height:12px;">160/180</div>
<div class="t td" style="left:447px;top:663px;width:79px;height:12px;">2.01/2.26</div>
<div class="t td" style="left:527px;top:663px;width:91px;height:12px;">&gt;24.0/25.5</div>
<div class="t td" style="left:619px;top:663px;width:58px;height:12px;">3.0/3.2</div>
<div class="t td" style="left:9px;top:676px;width:76px;height:13px;">HF24/23</div>
<div class="t td" style="left:86px;top:676px;width:67px;height:13px;">360/370</div>
<div class="t td" style="left:154px;top:676px;width:78px;height:13px;">3.5/3.65</div>
<div class="t td" style="left:233px;top:676px;width:66px;height:13px;">220/230</div>
<div class="t td" style="left:300px;top:676px;width:78px;height:13px;">2.76/2.89</div>
<div class="t td" style="left:379px;top:676px;width:67px;height:13px;">230/240</div>
<div class="t td" style="left:447px;top:676px;width:79px;height:13px;">2.89/3.01</div>
<div class="t td" style="left:527px;top:676px;width:91px;height:13px;">&gt;24.0/25.5</div>
<div class="t td" style="left:619px;top:676px;width:58px;height:13px;">3.0/3.2</div>
<div class="t td" style="left:9px;top:690px;width:76px;height:13px;">HF24/35</div>
<div class="t td" style="left:86px;top:690px;width:67px;height:13px;">370/380</div>
<div class="t td" style="left:154px;top:690px;width:78px;height:13px;">3.60/3.70</div>
<div class="t td" style="left:233px;top:690px;width:66px;height:13px;">260/270</div>
<div class="t td" style="left:300px;top:690px;width:78px;height:13px;">3.27/3.39</div>
<div class="t td" style="left:379px;top:690px;width:67px;height:13px;">350/360</div>
<div class="t td" style="left:447px;top:690px;width:79px;height:13px;">4.40/4.52</div>
<div class="t td" style="left:527px;top:690px;width:91px;height:13px;">&gt;24.0/25.5</div>
<div class="t td" style="left:619px;top:690px;width:58px;height:13px;">3.0/3.2</div>
<div class="t td" style="left:9px;top:704px;width:76px;height:13px;">HF26/16</div>
<div class="t td" style="left:86px;top:704px;width:67px;height:13px;">370/380</div>
<div class="t td" style="left:154px;top:704px;width:78px;height:13px;">3.70/3.80</div>
<div class="t td" style="left:233px;top:704px;width:66px;height:13px;">155/175</div>
<div class="t td" style="left:300px;top:704px;width:78px;height:13px;">1.95/2.20</div>
<div class="t td" style="left:379px;top:704px;width:67px;height:13px;">160/180</div>
<div class="t td" style="left:447px;top:704px;width:79px;height:13px;">2.01/2.26</div>
<div class="t td" style="left:527px;top:704px;width:91px;height:13px;">&gt;26.0/27.0</div>
<div class="t td" style="left:619px;top:704px;width:58px;height:13px;">3.2/3.4</div>
<div class="t td" style="left:9px;top:718px;width:76px;height:13px;">HF26/18</div>
<div class="t td" style="left:86px;top:718px;width:67px;height:13px;">370/380</div>
<div class="t td" style="left:154px;top:718px;width:78px;height:13px;">3.70/3.80</div>
<div class="t td" style="left:233px;top:718px;width:66px;height:13px;">175/190</div>
<div class="t td" style="left:300px;top:718px;width:78px;height:13px;">2.20/2.39</div>
<div class="t td" style="left:379px;top:718px;width:67px;height:13px;">180/190</div>
<div class="t td" style="left:447px;top:718px;width:79px;height:13px;">2.26/2.39</div>
<div class="t td" style="left:527px;top:718px;width:91px;height:13px;">26.0/27.0</div>
<div class="t td" style="left:619px;top:718px;width:58px;height:13px;">3.3/3.4</div>
<div class="t td" style="left:9px;top:732px;width:76px;height:13px;">HF26/24</div>
<div class="t td" style="left:86px;top:732px;width:67px;height:13px;">370/380</div>
<div class="t td" style="left:154px;top:732px;width:78px;height:13px;">3.70/3.80</div>
<div class="t td" style="left:233px;top:732px;width:66px;height:13px;">230/240</div>
<div class="t td" style="left:300px;top:732px;width:78px;height:13px;">2.89/3.01</div>
<div class="t td" style="left:379px;top:732px;width:67px;height:13px;">240/250</div>
<div class="t td" style="left:447px;top:732px;width:79px;height:13px;">3.01/3.14</div>
<div class="t td" style="left:527px;top:732px;width:91px;height:13px;">26.0/27.0</div>
<div class="t td" style="left:619px;top:732px;width:58px;height:13px;">3.3/3.4</div>
<div class="t td" style="left:9px;top:746px;width:76px;height:13px;">HF26/26</div>
<div class="t td" style="left:86px;top:746px;width:67px;height:13px;">370/380</div>
<div class="t td" style="left:154px;top:746px;width:78px;height:13px;">3.70/3.80</div>
<div class="t td" style="left:233px;top:746px;width:66px;height:13px;">230/240</div>
<div class="t td" style="left:300px;top:746px;width:78px;height:13px;">2.89/3.01</div>
<div class="t td" style="left:379px;top:746px;width:67px;height:13px;">260/270</div>
<div class="t td" style="left:447px;top:746px;width:79px;height:13px;">3.27/3.39</div>
<div class="t td" style="left:527px;top:746px;width:91px;height:13px;">26.0/27.0</div>
<div class="t td" style="left:619px;top:746px;width:58px;height:13px;">3.3/3.4</div>
<div class="b" style="left:8px;top:620px;width:670px;height:1px;background:#8e8e8e"></div>
<div class="b" style="left:8px;top:634px;width:670px;height:1px;background:#8e8e8e"></div>
<div class="b" style="left:8px;top:648px;width:670px;height:1px;background:#8e8e8e"></div>
<div class="b" style="left:8px;top:662px;width:670px;height:1px;background:#8e8e8e"></div>
<div class="b" style="left:8px;top:675px;width:670px;height:1px;background:#8e8e8e"></div>
<div class="b" style="left:8px;top:689px;width:670px;height:1px;background:#8e8e8e"></div>
<div class="b" style="left:8px;top:703px;width:670px;height:1px;background:#8e8e8e"></div>
<div class="b" style="left:8px;top:717px;width:670px;height:1px;background:#8e8e8e"></div>
<div class="b" style="left:8px;top:731px;width:670px;height:1px;background:#8e8e8e"></div>
<div class="b" style="left:8px;top:745px;width:670px;height:1px;background:#8e8e8e"></div>
<div class="b" style="left:85px;top:606px;width:1px;height:154px;background:#8e8e8e"></div>
<div class="b" style="left:153px;top:606px;width:1px;height:154px;background:#8e8e8e"></div>
<div class="b" style="left:232px;top:606px;width:1px;height:154px;background:#8e8e8e"></div>
<div class="b" style="left:299px;top:606px;width:1px;height:154px;background:#8e8e8e"></div>
<div class="b" style="left:378px;top:606px;width:1px;height:154px;background:#8e8e8e"></div>
<div class="b" style="left:446px;top:606px;width:1px;height:154px;background:#8e8e8e"></div>
<div class="b" style="left:526px;top:606px;width:1px;height:154px;background:#8e8e8e"></div>
<div class="b" style="left:618px;top:606px;width:1px;height:154px;background:#8e8e8e"></div>
<div class="b" style="left:8px;top:606px;width:670px;height:1px;background:#5d7894"></div>
<div class="t td" style="left:9px;top:760px;width:76px;height:13px;">HF26/30</div>
<div class="t td" style="left:86px;top:760px;width:67px;height:13px;">385/395</div>
<div class="t td" style="left:154px;top:760px;width:78px;height:13px;">3.85/3.95</div>
<div class="t td" style="left:233px;top:760px;width:66px;height:13px;">260/270</div>
<div class="t td" style="left:300px;top:760px;width:78px;height:13px;"></div>
<div class="t td" style="left:379px;top:760px;width:67px;height:13px;"></div>
<div class="b" style="left:8px;top:759px;width:670px;height:1px;background:#8e8e8e"></div>
<div class="b" style="left:85px;top:759px;width:1px;height:15px;background:#8e8e8e"></div>
<div class="b" style="left:153px;top:759px;width:1px;height:15px;background:#8e8e8e"></div>
<div class="b" style="left:232px;top:759px;width:1px;height:15px;background:#8e8e8e"></div>
<div class="b" style="left:299px;top:759px;width:1px;height:15px;background:#8e8e8e"></div>
<div class="b" style="left:378px;top:759px;width:1px;height:15px;background:#8e8e8e"></div>
<div class="b" style="left:446px;top:759px;width:1px;height:15px;background:#8e8e8e"></div>
<div class="b" style="left:8px;top:773px;width:439px;height:1px;background:#555"></div>
<div class="b" style="left:8px;top:23px;width:1px;height:751px;background:#4a4a4a"></div>
<div class="b" style="left:677px;top:23px;width:1px;height:737px;background:#4a4a4a"></div>
<div class="b" style="left:8px;top:23px;width:670px;height:1px;background:#3d5470"></div>
<div class="b" style="left:8px;top:134px;width:670px;height:2px;background:#1c2430"></div>
<div class="b" style="left:8px;top:384px;width:670px;height:2px;background:#1c2430"></div>
<div class="b" style="left:8px;top:523px;width:670px;height:2px;background:#1c2430"></div>
<div class="t ttl" style="left:0;top:811px;width:680px;height:15px">钕铁硼产品性能列表</div>
<div class="b" style="left:43px;top:835px;width:586px;height:731px;background:#fff;"></div>
<div class="b" style="left:94px;top:835px;width:535px;height:58px;background:#6699cc;"></div>
<div class="b" style="left:94px;top:892px;width:33px;height:43px;background:#ffffcc;"></div>
<div class="b" style="left:126px;top:892px;width:32px;height:43px;background:#ffffcc;"></div>
<div class="b" style="left:157px;top:892px;width:33px;height:43px;background:#66ccff;"></div>
<div class="b" style="left:189px;top:892px;width:33px;height:43px;background:#66ccff;"></div>
<div class="b" style="left:221px;top:892px;width:32px;height:43px;background:#00cc99;"></div>
<div class="b" style="left:252px;top:892px;width:33px;height:43px;background:#00cc99;"></div>
<div class="b" style="left:284px;top:892px;width:33px;height:43px;background:#ccffcc;"></div>
<div class="b" style="left:316px;top:892px;width:34px;height:43px;background:#ccffcc;"></div>
<div class="b" style="left:349px;top:892px;width:37px;height:43px;background:#cc99ff;"></div>
<div class="b" style="left:385px;top:892px;width:37px;height:43px;background:#f9eeff;"></div>
<div class="b" style="left:421px;top:892px;width:33px;height:43px;background:#ffcc99;"></div>
<div class="b" style="left:453px;top:892px;width:34px;height:43px;background:#ffcc99;"></div>
<div class="b" style="left:486px;top:892px;width:34px;height:43px;background:#ffe6cf;"></div>
<div class="b" style="left:519px;top:892px;width:33px;height:43px;background:#ffe6cf;"></div>
<div class="b" style="left:551px;top:892px;width:78px;height:43px;background:#ffffcc;"></div>
<div class="b" style="left:43px;top:934px;width:18px;height:632px;background:#6ccbf7;"></div>
<div class="b" style="left:60px;top:934px;width:35px;height:632px;background:#ffcc99;"></div>
<div class="b" style="left:94px;top:934px;width:33px;height:632px;background:#ffffcc;"></div>
<div class="b" style="left:126px;top:934px;width:32px;height:632px;background:#ffffcc;"></div>
<div class="b" style="left:157px;top:934px;width:33px;height:632px;background:#66ccff;"></div>
<div class="b" style="left:189px;top:934px;width:33px;height:632px;background:#66ccff;"></div>
<div class="b" style="left:221px;top:934px;width:32px;height:632px;background:#00cc99;"></div>
<div class="b" style="left:252px;top:934px;width:33px;height:632px;background:#00cc99;"></div>
<div class="b" style="left:284px;top:934px;width:33px;height:632px;background:#ccffcc;"></div>
<div class="b" style="left:316px;top:934px;width:34px;height:632px;background:#ccffcc;"></div>
<div class="b" style="left:349px;top:934px;width:37px;height:632px;background:#cc99ff;"></div>
<div class="b" style="left:385px;top:934px;width:37px;height:632px;background:#f9eeff;"></div>
<div class="b" style="left:421px;top:934px;width:33px;height:632px;background:#ffcc99;"></div>
<div class="b" style="left:453px;top:934px;width:34px;height:632px;background:#ffcc99;"></div>
<div class="b" style="left:486px;top:934px;width:34px;height:632px;background:#ffe6cf;"></div>
<div class="b" style="left:519px;top:934px;width:33px;height:632px;background:#ffe6cf;"></div>
<div class="b" style="left:551px;top:934px;width:78px;height:632px;background:#ffffcc;"></div>
<div class="t h2" style="left:95px;top:845px;width:126px;height:13px;"><span class="cj">剩磁</span></div>
<div class="t h2" style="left:95px;top:858px;width:126px;height:13px;">Remanence</div>
<div class="t h2" style="left:95px;top:872px;width:126px;height:13px;">Br</div>
<div class="t h2" style="left:222px;top:841px;width:127px;height:13px;"><span class="cj">矫顽力</span></div>
<div class="t h2" style="left:222px;top:854px;width:127px;height:13px;">Coercive force</div>
<div class="t h2" style="left:222px;top:868px;width:127px;height:13px;">bHc</div>
<div class="t h2" style="left:350px;top:839px;width:71px;height:13px;"><span class="cj">内禀矫顽力</span></div>
<div class="t h2" style="left:350px;top:852px;width:71px;height:13px;">Intrinsic</div>
<div class="t h2" style="left:350px;top:865px;width:71px;height:13px;">coercive</div>
<div class="t h2" style="left:350px;top:879px;width:71px;height:13px;">force iHc</div>
<div class="t h2" style="left:422px;top:841px;width:129px;height:13px;"><span class="cj">最大磁能面积</span></div>
<div class="t h2" style="left:422px;top:854px;width:129px;height:13px;">Maximum energy product</div>
<div class="t h2" style="left:422px;top:868px;width:129px;height:13px;">(BH)max</div>
<div class="t h2" style="left:552px;top:839px;width:76px;height:13px;"><span class="cj">工作温度</span>Working</div>
<div class="t h2" style="left:552px;top:852px;width:76px;height:13px;">temperature</div>
<div class="t h2" style="left:552px;top:865px;width:76px;height:13px;">Tw(L/D-0.7,</div>
<div class="t h2" style="left:552px;top:879px;width:76px;height:13px;">Cylinder)</div>
<div class="t u2" style="left:95px;top:893px;width:62px;height:13px;">kGs</div>
<div class="t u2" style="left:158px;top:893px;width:63px;height:13px;">T</div>
<div class="t u2" style="left:222px;top:893px;width:62px;height:13px;">kOe</div>
<div class="t u2" style="left:285px;top:893px;width:64px;height:13px;">kA/m</div>
<div class="t u2" style="left:422px;top:893px;width:64px;height:13px;">MGOe</div>
<div class="t u2" style="left:487px;top:893px;width:64px;height:13px;">kJ/m</div>
<div class="t c2" style="left:95px;top:907px;width:31px;height:13px;">标称值</div>
<div class="t u2" style="left:95px;top:921px;width:31px;height:13px;">Nom.</div>
<div class="t c2" style="left:127px;top:907px;width:30px;height:13px;">最小值</div>
<div class="t u2" style="left:127px;top:921px;width:30px;height:13px;">Min.</div>
<div class="t c2" style="left:158px;top:907px;width:31px;height:13px;">标称值</div>
<div class="t u2" style="left:158px;top:921px;width:31px;height:13px;">Nom.</div>
<div class="t c2" style="left:190px;top:907px;width:31px;height:13px;">最小值</div>
<div class="t u2" style="left:190px;top:921px;width:31px;height:13px;">Min.</div>
<div class="t c2" style="left:222px;top:907px;width:30px;height:13px;">标称值</div>
<div class="t u2" style="left:222px;top:921px;width:30px;height:13px;">Nom.</div>
<div class="t c2" style="left:253px;top:907px;width:31px;height:13px;">最小值</div>
<div class="t u2" style="left:253px;top:921px;width:31px;height:13px;">Min.</div>
<div class="t c2" style="left:285px;top:907px;width:31px;height:13px;">标称值</div>
<div class="t u2" style="left:285px;top:921px;width:31px;height:13px;">Nom.</div>
<div class="t c2" style="left:317px;top:907px;width:32px;height:13px;">最小值</div>
<div class="t u2" style="left:317px;top:921px;width:32px;height:13px;">Min.</div>
<div class="t c2" style="left:422px;top:907px;width:31px;height:13px;">标称值</div>
<div class="t u2" style="left:422px;top:921px;width:31px;height:13px;">Nom.</div>
<div class="t c2" style="left:454px;top:907px;width:32px;height:13px;">最小值</div>
<div class="t u2" style="left:454px;top:921px;width:32px;height:13px;">Min.</div>
<div class="t c2" style="left:487px;top:907px;width:32px;height:13px;">标称值</div>
<div class="t u2" style="left:487px;top:921px;width:32px;height:13px;">Nom.</div>
<div class="t c2" style="left:520px;top:907px;width:31px;height:13px;">最小值</div>
<div class="t u2" style="left:520px;top:921px;width:31px;height:13px;">Min.</div>
<div class="t u2" style="left:350px;top:893px;width:35px;height:41px;">kOe</div>
<div class="t u2" style="left:386px;top:893px;width:35px;height:41px;">kA/m</div>
<div class="t u2" style="left:552px;top:893px;width:76px;height:41px;">℃</div>
<div class="b" style="left:60px;top:934px;width:1px;height:632px;background:#767676"></div>
<div class="b" style="left:94px;top:835px;width:1px;height:731px;background:#767676"></div>
<div class="b" style="left:126px;top:906px;width:1px;height:660px;background:#767676"></div>
<div class="b" style="left:157px;top:892px;width:1px;height:674px;background:#767676"></div>
<div class="b" style="left:189px;top:906px;width:1px;height:660px;background:#767676"></div>
<div class="b" style="left:221px;top:835px;width:1px;height:731px;background:#767676"></div>
<div class="b" style="left:252px;top:906px;width:1px;height:660px;background:#767676"></div>
<div class="b" style="left:284px;top:892px;width:1px;height:674px;background:#767676"></div>
<div class="b" style="left:316px;top:906px;width:1px;height:660px;background:#767676"></div>
<div class="b" style="left:349px;top:835px;width:1px;height:731px;background:#767676"></div>
<div class="b" style="left:385px;top:892px;width:1px;height:674px;background:#767676"></div>
<div class="b" style="left:421px;top:835px;width:1px;height:731px;background:#767676"></div>
<div class="b" style="left:453px;top:906px;width:1px;height:660px;background:#767676"></div>
<div class="b" style="left:486px;top:892px;width:1px;height:674px;background:#767676"></div>
<div class="b" style="left:519px;top:906px;width:1px;height:660px;background:#767676"></div>
<div class="b" style="left:551px;top:835px;width:1px;height:731px;background:#767676"></div>
<div class="b" style="left:94px;top:892px;width:535px;height:1px;background:#767676"></div>
<div class="b" style="left:94px;top:906px;width:256px;height:1px;background:#767676"></div>
<div class="b" style="left:94px;top:920px;width:256px;height:1px;background:#767676"></div>
<div class="b" style="left:421px;top:906px;width:131px;height:1px;background:#767676"></div>
<div class="b" style="left:421px;top:920px;width:131px;height:1px;background:#767676"></div>
<div class="b" style="left:43px;top:934px;width:586px;height:1px;background:#767676"></div>
<div class="b" style="left:43px;top:949px;width:586px;height:1px;background:#767676"></div>
<div class="b" style="left:43px;top:965px;width:586px;height:1px;background:#767676"></div>
<div class="b" style="left:43px;top:980px;width:586px;height:1px;background:#767676"></div>
<div class="b" style="left:43px;top:995px;width:586px;height:1px;background:#767676"></div>
<div class="b" style="left:43px;top:1011px;width:586px;height:1px;background:#767676"></div>
<div class="b" style="left:43px;top:1026px;width:586px;height:1px;background:#767676"></div>
<div class="b" style="left:43px;top:1042px;width:586px;height:1px;background:#767676"></div>
<div class="b" style="left:43px;top:1057px;width:586px;height:1px;background:#767676"></div>
<div class="b" style="left:43px;top:1072px;width:586px;height:1px;background:#767676"></div>
<div class="b" style="left:43px;top:1088px;width:586px;height:1px;background:#767676"></div>
<div class="b" style="left:43px;top:1103px;width:586px;height:1px;background:#767676"></div>
<div class="b" style="left:43px;top:1119px;width:586px;height:1px;background:#767676"></div>
<div class="b" style="left:43px;top:1134px;width:586px;height:1px;background:#767676"></div>
<div class="b" style="left:43px;top:1149px;width:586px;height:1px;background:#767676"></div>
<div class="b" style="left:43px;top:1165px;width:586px;height:1px;background:#767676"></div>
<div class="b" style="left:43px;top:1180px;width:586px;height:1px;background:#767676"></div>
<div class="b" style="left:43px;top:1196px;width:586px;height:1px;background:#767676"></div>
<div class="b" style="left:43px;top:1211px;width:586px;height:1px;background:#767676"></div>
<div class="b" style="left:43px;top:1226px;width:586px;height:1px;background:#767676"></div>
<div class="b" style="left:43px;top:1242px;width:586px;height:1px;background:#767676"></div>
<div class="b" style="left:43px;top:1257px;width:586px;height:1px;background:#767676"></div>
<div class="b" style="left:43px;top:1272px;width:586px;height:1px;background:#767676"></div>
<div class="b" style="left:43px;top:1288px;width:586px;height:1px;background:#767676"></div>
<div class="b" style="left:43px;top:1303px;width:586px;height:1px;background:#767676"></div>
<div class="b" style="left:43px;top:1319px;width:586px;height:1px;background:#767676"></div>
<div class="b" style="left:43px;top:1334px;width:586px;height:1px;background:#767676"></div>
<div class="b" style="left:43px;top:1349px;width:586px;height:1px;background:#767676"></div>
<div class="b" style="left:43px;top:1365px;width:586px;height:1px;background:#767676"></div>
<div class="b" style="left:43px;top:1380px;width:586px;height:1px;background:#767676"></div>
<div class="b" style="left:43px;top:1396px;width:586px;height:1px;background:#767676"></div>
<div class="b" style="left:43px;top:1411px;width:586px;height:1px;background:#767676"></div>
<div class="b" style="left:43px;top:1426px;width:586px;height:1px;background:#767676"></div>
<div class="b" style="left:43px;top:1442px;width:586px;height:1px;background:#767676"></div>
<div class="b" style="left:43px;top:1457px;width:586px;height:1px;background:#767676"></div>
<div class="b" style="left:43px;top:1473px;width:586px;height:1px;background:#767676"></div>
<div class="b" style="left:43px;top:1488px;width:586px;height:1px;background:#767676"></div>
<div class="b" style="left:43px;top:1503px;width:586px;height:1px;background:#767676"></div>
<div class="b" style="left:43px;top:1519px;width:586px;height:1px;background:#767676"></div>
<div class="b" style="left:43px;top:1534px;width:586px;height:1px;background:#767676"></div>
<div class="b" style="left:43px;top:1550px;width:586px;height:1px;background:#767676"></div>
<div class="b" style="left:43px;top:835px;width:586px;height:731px;border:1px solid #505050;"></div>
<div class="t ix" style="left:44px;top:935px;width:16px;height:14px;">1</div>
<div class="t gd" style="left:61px;top:935px;width:33px;height:14px;">N30</div>
<div class="t nm" style="left:95px;top:935px;width:31px;height:14px;">11.2</div>
<div class="t nm" style="left:127px;top:935px;width:30px;height:14px;">10.8</div>
<div class="t nm" style="left:158px;top:935px;width:31px;height:14px;">1.12</div>
<div class="t nm" style="left:190px;top:935px;width:31px;height:14px;">1.08</div>
<div class="t nm gr" style="left:222px;top:935px;width:30px;height:14px;">10.5</div>
<div class="t nm gr" style="left:253px;top:935px;width:31px;height:14px;">9.8</div>
<div class="t nm" style="left:285px;top:935px;width:31px;height:14px;">836</div>
<div class="t nm" style="left:317px;top:935px;width:32px;height:14px;">780</div>
<div class="t nm" style="left:350px;top:935px;width:35px;height:14px;"><span class="g">≥</span>12</div>
<div class="t nm" style="left:386px;top:935px;width:35px;height:14px;"><span class="g">≥</span>955</div>
<div class="t nm" style="left:422px;top:935px;width:31px;height:14px;">30</div>
<div class="t nm" style="left:454px;top:935px;width:32px;height:14px;">28</div>
<div class="t nm" style="left:487px;top:935px;width:32px;height:14px;">239</div>
<div class="t nm" style="left:520px;top:935px;width:31px;height:14px;">223</div>
<div class="t nm" style="left:552px;top:935px;width:76px;height:14px;"><span class="g">≤</span>80</div>
<div class="t ix" style="left:44px;top:950px;width:16px;height:15px;">2</div>
<div class="t gd" style="left:61px;top:950px;width:33px;height:15px;">N33</div>
<div class="t nm" style="left:95px;top:950px;width:31px;height:15px;">11.7</div>
<div class="t nm" style="left:127px;top:950px;width:30px;height:15px;">11.4</div>
<div class="t nm" style="left:158px;top:950px;width:31px;height:15px;">1.17</div>
<div class="t nm" style="left:190px;top:950px;width:31px;height:15px;">1.14</div>
<div class="t nm gr" style="left:222px;top:950px;width:30px;height:15px;">11.0</div>
<div class="t nm gr" style="left:253px;top:950px;width:31px;height:15px;">10.3</div>
<div class="t nm" style="left:285px;top:950px;width:31px;height:15px;">876</div>
<div class="t nm" style="left:317px;top:950px;width:32px;height:15px;">820</div>
<div class="t nm" style="left:350px;top:950px;width:35px;height:15px;"><span class="g">≥</span>12</div>
<div class="t nm" style="left:386px;top:950px;width:35px;height:15px;"><span class="g">≥</span>955</div>
<div class="t nm" style="left:422px;top:950px;width:31px;height:15px;">33</div>
<div class="t nm" style="left:454px;top:950px;width:32px;height:15px;">31</div>
<div class="t nm" style="left:487px;top:950px;width:32px;height:15px;">263</div>
<div class="t nm" style="left:520px;top:950px;width:31px;height:15px;">247</div>
<div class="t nm" style="left:552px;top:950px;width:76px;height:15px;"><span class="g">≤</span>80</div>
<div class="t ix" style="left:44px;top:966px;width:16px;height:14px;">3</div>
<div class="t gd" style="left:61px;top:966px;width:33px;height:14px;">N35</div>
<div class="t nm" style="left:95px;top:966px;width:31px;height:14px;">12.1</div>
<div class="t nm" style="left:127px;top:966px;width:30px;height:14px;">11.7</div>
<div class="t nm" style="left:158px;top:966px;width:31px;height:14px;">1.21</div>
<div class="t nm" style="left:190px;top:966px;width:31px;height:14px;">1.17</div>
<div class="t nm gr" style="left:222px;top:966px;width:30px;height:14px;">11.5</div>
<div class="t nm gr" style="left:253px;top:966px;width:31px;height:14px;">10.8</div>
<div class="t nm" style="left:285px;top:966px;width:31px;height:14px;">915</div>
<div class="t nm" style="left:317px;top:966px;width:32px;height:14px;">860</div>
<div class="t nm" style="left:350px;top:966px;width:35px;height:14px;"><span class="g">≥</span>12</div>
<div class="t nm" style="left:386px;top:966px;width:35px;height:14px;"><span class="g">≥</span>955</div>
<div class="t nm" style="left:422px;top:966px;width:31px;height:14px;">35</div>
<div class="t nm" style="left:454px;top:966px;width:32px;height:14px;">33</div>
<div class="t nm" style="left:487px;top:966px;width:32px;height:14px;">279</div>
<div class="t nm" style="left:520px;top:966px;width:31px;height:14px;">263</div>
<div class="t nm" style="left:552px;top:966px;width:76px;height:14px;"><span class="g">≤</span>80</div>
<div class="t ix" style="left:44px;top:981px;width:16px;height:14px;">4</div>
<div class="t gd" style="left:61px;top:981px;width:33px;height:14px;">N38</div>
<div class="t nm" style="left:95px;top:981px;width:31px;height:14px;">12.6</div>
<div class="t nm" style="left:127px;top:981px;width:30px;height:14px;">12.2</div>
<div class="t nm" style="left:158px;top:981px;width:31px;height:14px;">1.26</div>
<div class="t nm" style="left:190px;top:981px;width:31px;height:14px;">1.22</div>
<div class="t nm gr" style="left:222px;top:981px;width:30px;height:14px;">11.5</div>
<div class="t nm gr" style="left:253px;top:981px;width:31px;height:14px;">10.8</div>
<div class="t nm" style="left:285px;top:981px;width:31px;height:14px;">915</div>
<div class="t nm" style="left:317px;top:981px;width:32px;height:14px;">860</div>
<div class="t nm" style="left:350px;top:981px;width:35px;height:14px;"><span class="g">≥</span>12</div>
<div class="t nm" style="left:386px;top:981px;width:35px;height:14px;"><span class="g">≥</span>955</div>
<div class="t nm" style="left:422px;top:981px;width:31px;height:14px;">38</div>
<div class="t nm" style="left:454px;top:981px;width:32px;height:14px;">36</div>
<div class="t nm" style="left:487px;top:981px;width:32px;height:14px;">303</div>
<div class="t nm" style="left:520px;top:981px;width:31px;height:14px;">287</div>
<div class="t nm" style="left:552px;top:981px;width:76px;height:14px;"><span class="g">≤</span>80</div>
<div class="t ix" style="left:44px;top:996px;width:16px;height:15px;">5</div>
<div class="t gd" style="left:61px;top:996px;width:33px;height:15px;">N40</div>
<div class="t nm" style="left:95px;top:996px;width:31px;height:15px;">12.9</div>
<div class="t nm" style="left:127px;top:996px;width:30px;height:15px;">12.6</div>
<div class="t nm" style="left:158px;top:996px;width:31px;height:15px;">1.29</div>
<div class="t nm" style="left:190px;top:996px;width:31px;height:15px;">1.26</div>
<div class="t nm gr" style="left:222px;top:996px;width:30px;height:15px;">11.0</div>
<div class="t nm gr" style="left:253px;top:996px;width:31px;height:15px;">10.5</div>
<div class="t nm" style="left:285px;top:996px;width:31px;height:15px;">876</div>
<div class="t nm" style="left:317px;top:996px;width:32px;height:15px;">836</div>
<div class="t nm" style="left:350px;top:996px;width:35px;height:15px;"><span class="g">≥</span>12</div>
<div class="t nm" style="left:386px;top:996px;width:35px;height:15px;"><span class="g">≥</span>955</div>
<div class="t nm" style="left:422px;top:996px;width:31px;height:15px;">40</div>
<div class="t nm" style="left:454px;top:996px;width:32px;height:15px;">38</div>
<div class="t nm" style="left:487px;top:996px;width:32px;height:15px;">318</div>
<div class="t nm" style="left:520px;top:996px;width:31px;height:15px;">303</div>
<div class="t nm" style="left:552px;top:996px;width:76px;height:15px;"><span class="g">≤</span>80</div>
<div class="t ix" style="left:44px;top:1012px;width:16px;height:14px;">6</div>
<div class="t gd" style="left:61px;top:1012px;width:33px;height:14px;">N43</div>
<div class="t nm" style="left:95px;top:1012px;width:31px;height:14px;">13.3</div>
<div class="t nm" style="left:127px;top:1012px;width:30px;height:14px;">13.0</div>
<div class="t nm" style="left:158px;top:1012px;width:31px;height:14px;">1.33</div>
<div class="t nm" style="left:190px;top:1012px;width:31px;height:14px;">1.30</div>
<div class="t nm gr" style="left:222px;top:1012px;width:30px;height:14px;">11.0</div>
<div class="t nm gr" style="left:253px;top:1012px;width:31px;height:14px;">10.5</div>
<div class="t nm" style="left:285px;top:1012px;width:31px;height:14px;">876</div>
<div class="t nm" style="left:317px;top:1012px;width:32px;height:14px;">836</div>
<div class="t nm" style="left:350px;top:1012px;width:35px;height:14px;"><span class="g">≥</span>12</div>
<div class="t nm" style="left:386px;top:1012px;width:35px;height:14px;"><span class="g">≥</span>955</div>
<div class="t nm" style="left:422px;top:1012px;width:31px;height:14px;">43</div>
<div class="t nm" style="left:454px;top:1012px;width:32px;height:14px;">41</div>
<div class="t nm" style="left:487px;top:1012px;width:32px;height:14px;">342</div>
<div class="t nm" style="left:520px;top:1012px;width:31px;height:14px;">326</div>
<div class="t nm" style="left:552px;top:1012px;width:76px;height:14px;"><span class="g">≤</span>80</div>
<div class="t ix" style="left:44px;top:1027px;width:16px;height:15px;">7</div>
<div class="t gd" style="left:61px;top:1027px;width:33px;height:15px;">N45</div>
<div class="t nm" style="left:95px;top:1027px;width:31px;height:15px;">13.7</div>
<div class="t nm" style="left:127px;top:1027px;width:30px;height:15px;">13.3</div>
<div class="t nm" style="left:158px;top:1027px;width:31px;height:15px;">1.37</div>
<div class="t nm" style="left:190px;top:1027px;width:31px;height:15px;">1.33</div>
<div class="t nm gr" style="left:222px;top:1027px;width:30px;height:15px;">11.0</div>
<div class="t nm gr" style="left:253px;top:1027px;width:31px;height:15px;">10.5</div>
<div class="t nm" style="left:285px;top:1027px;width:31px;height:15px;">876</div>
<div class="t nm" style="left:317px;top:1027px;width:32px;height:15px;">836</div>
<div class="t nm" style="left:350px;top:1027px;width:35px;height:15px;"><span class="g">≥</span>12</div>
<div class="t nm" style="left:386px;top:1027px;width:35px;height:15px;"><span class="g">≥</span>955</div>
<div class="t nm" style="left:422px;top:1027px;width:31px;height:15px;">45</div>
<div class="t nm" style="left:454px;top:1027px;width:32px;height:15px;">43</div>
<div class="t nm" style="left:487px;top:1027px;width:32px;height:15px;">358</div>
<div class="t nm" style="left:520px;top:1027px;width:31px;height:15px;">342</div>
<div class="t nm" style="left:552px;top:1027px;width:76px;height:15px;"><span class="g">≤</span>80</div>
<div class="t ix" style="left:44px;top:1043px;width:16px;height:14px;">8</div>
<div class="t gd" style="left:61px;top:1043px;width:33px;height:14px;">N48</div>
<div class="t nm" style="left:95px;top:1043px;width:31px;height:14px;">14.0</div>
<div class="t nm" style="left:127px;top:1043px;width:30px;height:14px;">13.7</div>
<div class="t nm" style="left:158px;top:1043px;width:31px;height:14px;">1.40</div>
<div class="t nm" style="left:190px;top:1043px;width:31px;height:14px;">1.37</div>
<div class="t nm gr" style="left:222px;top:1043px;width:30px;height:14px;">11.0</div>
<div class="t nm gr" style="left:253px;top:1043px;width:31px;height:14px;">10.5</div>
<div class="t nm" style="left:285px;top:1043px;width:31px;height:14px;">876</div>
<div class="t nm" style="left:317px;top:1043px;width:32px;height:14px;">836</div>
<div class="t nm" style="left:350px;top:1043px;width:35px;height:14px;"><span class="g">≥</span>12</div>
<div class="t nm" style="left:386px;top:1043px;width:35px;height:14px;"><span class="g">≥</span>955</div>
<div class="t nm" style="left:422px;top:1043px;width:31px;height:14px;">48</div>
<div class="t nm" style="left:454px;top:1043px;width:32px;height:14px;">45</div>
<div class="t nm" style="left:487px;top:1043px;width:32px;height:14px;">374</div>
<div class="t nm" style="left:520px;top:1043px;width:31px;height:14px;">358</div>
<div class="t nm" style="left:552px;top:1043px;width:76px;height:14px;"><span class="g">≤</span>80</div>
<div class="t ix" style="left:44px;top:1058px;width:16px;height:14px;">9</div>
<div class="t gd" style="left:61px;top:1058px;width:33px;height:14px;">N50</div>
<div class="t nm" style="left:95px;top:1058px;width:31px;height:14px;">14.6</div>
<div class="t nm" style="left:127px;top:1058px;width:30px;height:14px;">14.0</div>
<div class="t nm" style="left:158px;top:1058px;width:31px;height:14px;">1.46</div>
<div class="t nm" style="left:190px;top:1058px;width:31px;height:14px;">1.40</div>
<div class="t nm gr" style="left:222px;top:1058px;width:30px;height:14px;">11.0</div>
<div class="t nm gr" style="left:253px;top:1058px;width:31px;height:14px;">10.5</div>
<div class="t nm" style="left:285px;top:1058px;width:31px;height:14px;">876</div>
<div class="t nm" style="left:317px;top:1058px;width:32px;height:14px;">836</div>
<div class="t nm" style="left:350px;top:1058px;width:35px;height:14px;"><span class="g">≥</span>12</div>
<div class="t nm" style="left:386px;top:1058px;width:35px;height:14px;"><span class="g">≥</span>955</div>
<div class="t nm" style="left:422px;top:1058px;width:31px;height:14px;">51</div>
<div class="t nm" style="left:454px;top:1058px;width:32px;height:14px;">47</div>
<div class="t nm" style="left:487px;top:1058px;width:32px;height:14px;">390</div>
<div class="t nm" style="left:520px;top:1058px;width:31px;height:14px;">358</div>
<div class="t nm" style="left:552px;top:1058px;width:76px;height:14px;"><span class="g">≤</span>80</div>
<div class="t ix" style="left:44px;top:1073px;width:16px;height:15px;">10</div>
<div class="t gd" style="left:61px;top:1073px;width:33px;height:15px;">N30M</div>
<div class="t nm" style="left:95px;top:1073px;width:31px;height:15px;">11.2</div>
<div class="t nm" style="left:127px;top:1073px;width:30px;height:15px;">10.8</div>
<div class="t nm" style="left:158px;top:1073px;width:31px;height:15px;">1.12</div>
<div class="t nm" style="left:190px;top:1073px;width:31px;height:15px;">1.08</div>
<div class="t nm gr" style="left:222px;top:1073px;width:30px;height:15px;">10.5</div>
<div class="t nm gr" style="left:253px;top:1073px;width:31px;height:15px;">9.8</div>
<div class="t nm" style="left:285px;top:1073px;width:31px;height:15px;">836</div>
<div class="t nm" style="left:317px;top:1073px;width:32px;height:15px;">780</div>
<div class="t nm" style="left:350px;top:1073px;width:35px;height:15px;"><span class="g">≥</span>14</div>
<div class="t nm" style="left:386px;top:1073px;width:35px;height:15px;"><span class="g">≥</span>1114</div>
<div class="t nm" style="left:422px;top:1073px;width:31px;height:15px;">30</div>
<div class="t nm" style="left:454px;top:1073px;width:32px;height:15px;">28</div>
<div class="t nm" style="left:487px;top:1073px;width:32px;height:15px;">239</div>
<div class="t nm" style="left:520px;top:1073px;width:31px;height:15px;">223</div>
<div class="t nm" style="left:552px;top:1073px;width:76px;height:15px;"><span class="g">≤</span>100</div>
<div class="t ix" style="left:44px;top:1089px;width:16px;height:14px;">11</div>
<div class="t gd" style="left:61px;top:1089px;width:33px;height:14px;">N33M</div>
<div class="t nm" style="left:95px;top:1089px;width:31px;height:14px;">11.7</div>
<div class="t nm" style="left:127px;top:1089px;width:30px;height:14px;">11.4</div>
<div class="t nm" style="left:158px;top:1089px;width:31px;height:14px;">1.17</div>
<div class="t nm" style="left:190px;top:1089px;width:31px;height:14px;">1.14</div>
<div class="t nm gr" style="left:222px;top:1089px;width:30px;height:14px;">11.0</div>
<div class="t nm gr" style="left:253px;top:1089px;width:31px;height:14px;">10.3</div>
<div class="t nm" style="left:285px;top:1089px;width:31px;height:14px;">876</div>
<div class="t nm" style="left:317px;top:1089px;width:32px;height:14px;">820</div>
<div class="t nm" style="left:350px;top:1089px;width:35px;height:14px;"><span class="g">≥</span>14</div>
<div class="t nm" style="left:386px;top:1089px;width:35px;height:14px;"><span class="g">≥</span>1114</div>
<div class="t nm" style="left:422px;top:1089px;width:31px;height:14px;">33</div>
<div class="t nm" style="left:454px;top:1089px;width:32px;height:14px;">31</div>
<div class="t nm" style="left:487px;top:1089px;width:32px;height:14px;">263</div>
<div class="t nm" style="left:520px;top:1089px;width:31px;height:14px;">247</div>
<div class="t nm" style="left:552px;top:1089px;width:76px;height:14px;"><span class="g">≤</span>100</div>
<div class="t ix" style="left:44px;top:1104px;width:16px;height:15px;">12</div>
<div class="t gd" style="left:61px;top:1104px;width:33px;height:15px;">N35M</div>
<div class="t nm" style="left:95px;top:1104px;width:31px;height:15px;">12.1</div>
<div class="t nm" style="left:127px;top:1104px;width:30px;height:15px;">11.7</div>
<div class="t nm" style="left:158px;top:1104px;width:31px;height:15px;">1.21</div>
<div class="t nm" style="left:190px;top:1104px;width:31px;height:15px;">1.17</div>
<div class="t nm gr" style="left:222px;top:1104px;width:30px;height:15px;">11.5</div>
<div class="t nm gr" style="left:253px;top:1104px;width:31px;height:15px;">10.8</div>
<div class="t nm" style="left:285px;top:1104px;width:31px;height:15px;">915</div>
<div class="t nm" style="left:317px;top:1104px;width:32px;height:15px;">860</div>
<div class="t nm" style="left:350px;top:1104px;width:35px;height:15px;"><span class="g">≥</span>14</div>
<div class="t nm" style="left:386px;top:1104px;width:35px;height:15px;"><span class="g">≥</span>1114</div>
<div class="t nm" style="left:422px;top:1104px;width:31px;height:15px;">35</div>
<div class="t nm" style="left:454px;top:1104px;width:32px;height:15px;">33</div>
<div class="t nm" style="left:487px;top:1104px;width:32px;height:15px;">279</div>
<div class="t nm" style="left:520px;top:1104px;width:31px;height:15px;">263</div>
<div class="t nm" style="left:552px;top:1104px;width:76px;height:15px;"><span class="g">≤</span>100</div>
<div class="t ix" style="left:44px;top:1120px;width:16px;height:14px;">13</div>
<div class="t gd" style="left:61px;top:1120px;width:33px;height:14px;">N38M</div>
<div class="t nm" style="left:95px;top:1120px;width:31px;height:14px;">12.6</div>
<div class="t nm" style="left:127px;top:1120px;width:30px;height:14px;">12.2</div>
<div class="t nm" style="left:158px;top:1120px;width:31px;height:14px;">1.26</div>
<div class="t nm" style="left:190px;top:1120px;width:31px;height:14px;">1.22</div>
<div class="t nm gr" style="left:222px;top:1120px;width:30px;height:14px;">11.5</div>
<div class="t nm gr" style="left:253px;top:1120px;width:31px;height:14px;">10.8</div>
<div class="t nm" style="left:285px;top:1120px;width:31px;height:14px;">915</div>
<div class="t nm" style="left:317px;top:1120px;width:32px;height:14px;">860</div>
<div class="t nm" style="left:350px;top:1120px;width:35px;height:14px;"><span class="g">≥</span>14</div>
<div class="t nm" style="left:386px;top:1120px;width:35px;height:14px;"><span class="g">≥</span>1114</div>
<div class="t nm" style="left:422px;top:1120px;width:31px;height:14px;">38</div>
<div class="t nm" style="left:454px;top:1120px;width:32px;height:14px;">36</div>
<div class="t nm" style="left:487px;top:1120px;width:32px;height:14px;">303</div>
<div class="t nm" style="left:520px;top:1120px;width:31px;height:14px;">287</div>
<div class="t nm" style="left:552px;top:1120px;width:76px;height:14px;"><span class="g">≤</span>100</div>
<div class="t ix" style="left:44px;top:1135px;width:16px;height:14px;">14</div>
<div class="t gd" style="left:61px;top:1135px;width:33px;height:14px;">N40M</div>
<div class="t nm" style="left:95px;top:1135px;width:31px;height:14px;">12.9</div>
<div class="t nm" style="left:127px;top:1135px;width:30px;height:14px;">12.6</div>
<div class="t nm" style="left:158px;top:1135px;width:31px;height:14px;">1.29</div>
<div class="t nm" style="left:190px;top:1135px;width:31px;height:14px;">1.26</div>
<div class="t nm gr" style="left:222px;top:1135px;width:30px;height:14px;">11.5</div>
<div class="t nm gr" style="left:253px;top:1135px;width:31px;height:14px;">10.8</div>
<div class="t nm" style="left:285px;top:1135px;width:31px;height:14px;">915</div>
<div class="t nm" style="left:317px;top:1135px;width:32px;height:14px;">860</div>
<div class="t nm" style="left:350px;top:1135px;width:35px;height:14px;"><span class="g">≥</span>14</div>
<div class="t nm" style="left:386px;top:1135px;width:35px;height:14px;"><span class="g">≥</span>1114</div>
<div class="t nm" style="left:422px;top:1135px;width:31px;height:14px;">40</div>
<div class="t nm" style="left:454px;top:1135px;width:32px;height:14px;">38</div>
<div class="t nm" style="left:487px;top:1135px;width:32px;height:14px;">318</div>
<div class="t nm" style="left:520px;top:1135px;width:31px;height:14px;">303</div>
<div class="t nm" style="left:552px;top:1135px;width:76px;height:14px;"><span class="g">≤</span>100</div>
<div class="t ix" style="left:44px;top:1150px;width:16px;height:15px;">15</div>
<div class="t gd" style="left:61px;top:1150px;width:33px;height:15px;">N42M</div>
<div class="t nm" style="left:95px;top:1150px;width:31px;height:15px;">13.2</div>
<div class="t nm" style="left:127px;top:1150px;width:30px;height:15px;">12.9</div>
<div class="t nm" style="left:158px;top:1150px;width:31px;height:15px;">1.32</div>
<div class="t nm" style="left:190px;top:1150px;width:31px;height:15px;">1.29</div>
<div class="t nm gr" style="left:222px;top:1150px;width:30px;height:15px;">11.5</div>
<div class="t nm gr" style="left:253px;top:1150px;width:31px;height:15px;">10.8</div>
<div class="t nm" style="left:285px;top:1150px;width:31px;height:15px;">915</div>
<div class="t nm" style="left:317px;top:1150px;width:32px;height:15px;">860</div>
<div class="t nm" style="left:350px;top:1150px;width:35px;height:15px;"><span class="g">≥</span>14</div>
<div class="t nm" style="left:386px;top:1150px;width:35px;height:15px;"><span class="g">≥</span>1114</div>
<div class="t nm" style="left:422px;top:1150px;width:31px;height:15px;">42</div>
<div class="t nm" style="left:454px;top:1150px;width:32px;height:15px;">40</div>
<div class="t nm" style="left:487px;top:1150px;width:32px;height:15px;">342</div>
<div class="t nm" style="left:520px;top:1150px;width:31px;height:15px;">326</div>
<div class="t nm" style="left:552px;top:1150px;width:76px;height:15px;"><span class="g">≤</span>100</div>
<div class="t ix" style="left:44px;top:1166px;width:16px;height:14px;">16</div>
<div class="t gd" style="left:61px;top:1166px;width:33px;height:14px;">N45M</div>
<div class="t nm" style="left:95px;top:1166px;width:31px;height:14px;">13.7</div>
<div class="t nm" style="left:127px;top:1166px;width:30px;height:14px;">13.2</div>
<div class="t nm" style="left:158px;top:1166px;width:31px;height:14px;">1.37</div>
<div class="t nm" style="left:190px;top:1166px;width:31px;height:14px;">1.32</div>
<div class="t nm gr" style="left:222px;top:1166px;width:30px;height:14px;">11.5</div>
<div class="t nm gr" style="left:253px;top:1166px;width:31px;height:14px;">10.8</div>
<div class="t nm" style="left:285px;top:1166px;width:31px;height:14px;">915</div>
<div class="t nm" style="left:317px;top:1166px;width:32px;height:14px;">860</div>
<div class="t nm" style="left:350px;top:1166px;width:35px;height:14px;"><span class="g">≥</span>14</div>
<div class="t nm" style="left:386px;top:1166px;width:35px;height:14px;"><span class="g">≥</span>1114</div>
<div class="t nm" style="left:422px;top:1166px;width:31px;height:14px;">45</div>
<div class="t nm" style="left:454px;top:1166px;width:32px;height:14px;">42</div>
<div class="t nm" style="left:487px;top:1166px;width:32px;height:14px;">358</div>
<div class="t nm" style="left:520px;top:1166px;width:31px;height:14px;">342</div>
<div class="t nm" style="left:552px;top:1166px;width:76px;height:14px;"><span class="g">≤</span>100</div>
<div class="t ix" style="left:44px;top:1181px;width:16px;height:15px;">17</div>
<div class="t gd" style="left:61px;top:1181px;width:33px;height:15px;">N48M</div>
<div class="t nm" style="left:95px;top:1181px;width:31px;height:15px;">14.3</div>
<div class="t nm" style="left:127px;top:1181px;width:30px;height:15px;">13.7</div>
<div class="t nm" style="left:158px;top:1181px;width:31px;height:15px;">1.43</div>
<div class="t nm" style="left:190px;top:1181px;width:31px;height:15px;">1.37</div>
<div class="t nm gr" style="left:222px;top:1181px;width:30px;height:15px;">11.5</div>
<div class="t nm gr" style="left:253px;top:1181px;width:31px;height:15px;">10.8</div>
<div class="t nm" style="left:285px;top:1181px;width:31px;height:15px;">915</div>
<div class="t nm" style="left:317px;top:1181px;width:32px;height:15px;">860</div>
<div class="t nm" style="left:350px;top:1181px;width:35px;height:15px;"><span class="g">≥</span>14</div>
<div class="t nm" style="left:386px;top:1181px;width:35px;height:15px;"><span class="g">≥</span>1114</div>
<div class="t nm" style="left:422px;top:1181px;width:31px;height:15px;">49</div>
<div class="t nm" style="left:454px;top:1181px;width:32px;height:15px;">45</div>
<div class="t nm" style="left:487px;top:1181px;width:32px;height:15px;">390</div>
<div class="t nm" style="left:520px;top:1181px;width:31px;height:15px;">358</div>
<div class="t nm" style="left:552px;top:1181px;width:76px;height:15px;"><span class="g">≤</span>100</div>
<div class="t ix" style="left:44px;top:1197px;width:16px;height:14px;">18</div>
<div class="t gd" style="left:61px;top:1197px;width:33px;height:14px;">N27H</div>
<div class="t nm" style="left:95px;top:1197px;width:31px;height:14px;">10.6</div>
<div class="t nm" style="left:127px;top:1197px;width:30px;height:14px;">10.2</div>
<div class="t nm" style="left:158px;top:1197px;width:31px;height:14px;">1.06</div>
<div class="t nm" style="left:190px;top:1197px;width:31px;height:14px;">1.02</div>
<div class="t nm gr" style="left:222px;top:1197px;width:30px;height:14px;">10.0</div>
<div class="t nm gr" style="left:253px;top:1197px;width:31px;height:14px;">9.3</div>
<div class="t nm" style="left:285px;top:1197px;width:31px;height:14px;">796</div>
<div class="t nm" style="left:317px;top:1197px;width:32px;height:14px;">740</div>
<div class="t nm" style="left:350px;top:1197px;width:35px;height:14px;"><span class="g">≥</span>17</div>
<div class="t nm" style="left:386px;top:1197px;width:35px;height:14px;"><span class="g">≥</span>1353</div>
<div class="t nm" style="left:422px;top:1197px;width:31px;height:14px;">27</div>
<div class="t nm" style="left:454px;top:1197px;width:32px;height:14px;">25</div>
<div class="t nm" style="left:487px;top:1197px;width:32px;height:14px;">315</div>
<div class="t nm" style="left:520px;top:1197px;width:31px;height:14px;">199</div>
<div class="t nm" style="left:552px;top:1197px;width:76px;height:14px;"><span class="g">≤</span>120</div>
<div class="t ix" style="left:44px;top:1212px;width:16px;height:14px;">19</div>
<div class="t gd" style="left:61px;top:1212px;width:33px;height:14px;">N30H</div>
<div class="t nm" style="left:95px;top:1212px;width:31px;height:14px;">11.2</div>
<div class="t nm" style="left:127px;top:1212px;width:30px;height:14px;">10.8</div>
<div class="t nm" style="left:158px;top:1212px;width:31px;height:14px;">1.12</div>
<div class="t nm" style="left:190px;top:1212px;width:31px;height:14px;">1.08</div>
<div class="t nm gr" style="left:222px;top:1212px;width:30px;height:14px;">10.5</div>
<div class="t nm gr" style="left:253px;top:1212px;width:31px;height:14px;">9.8</div>
<div class="t nm" style="left:285px;top:1212px;width:31px;height:14px;">836</div>
<div class="t nm" style="left:317px;top:1212px;width:32px;height:14px;">780</div>
<div class="t nm" style="left:350px;top:1212px;width:35px;height:14px;"><span class="g">≥</span>17</div>
<div class="t nm" style="left:386px;top:1212px;width:35px;height:14px;"><span class="g">≥</span>1353</div>
<div class="t nm" style="left:422px;top:1212px;width:31px;height:14px;">30</div>
<div class="t nm" style="left:454px;top:1212px;width:32px;height:14px;">28</div>
<div class="t nm" style="left:487px;top:1212px;width:32px;height:14px;">239</div>
<div class="t nm" style="left:520px;top:1212px;width:31px;height:14px;">223</div>
<div class="t nm" style="left:552px;top:1212px;width:76px;height:14px;"><span class="g">≤</span>120</div>
<div class="t ix" style="left:44px;top:1227px;width:16px;height:15px;">20</div>
<div class="t gd" style="left:61px;top:1227px;width:33px;height:15px;">N33H</div>
<div class="t nm" style="left:95px;top:1227px;width:31px;height:15px;">11.7</div>
<div class="t nm" style="left:127px;top:1227px;width:30px;height:15px;">11.4</div>
<div class="t nm" style="left:158px;top:1227px;width:31px;height:15px;">1.17</div>
<div class="t nm" style="left:190px;top:1227px;width:31px;height:15px;">1.14</div>
<div class="t nm gr" style="left:222px;top:1227px;width:30px;height:15px;">11.0</div>
<div class="t nm gr" style="left:253px;top:1227px;width:31px;height:15px;">10.3</div>
<div class="t nm" style="left:285px;top:1227px;width:31px;height:15px;">876</div>
<div class="t nm" style="left:317px;top:1227px;width:32px;height:15px;">820</div>
<div class="t nm" style="left:350px;top:1227px;width:35px;height:15px;"><span class="g">≥</span>17</div>
<div class="t nm" style="left:386px;top:1227px;width:35px;height:15px;"><span class="g">≥</span>1353</div>
<div class="t nm" style="left:422px;top:1227px;width:31px;height:15px;">33</div>
<div class="t nm" style="left:454px;top:1227px;width:32px;height:15px;">31</div>
<div class="t nm" style="left:487px;top:1227px;width:32px;height:15px;">263</div>
<div class="t nm" style="left:520px;top:1227px;width:31px;height:15px;">247</div>
<div class="t nm" style="left:552px;top:1227px;width:76px;height:15px;"><span class="g">≤</span>120</div>
<div class="t ix" style="left:44px;top:1243px;width:16px;height:14px;">21</div>
<div class="t gd" style="left:61px;top:1243px;width:33px;height:14px;">N35H</div>
<div class="t nm" style="left:95px;top:1243px;width:31px;height:14px;">12.1</div>
<div class="t nm" style="left:127px;top:1243px;width:30px;height:14px;">11.7</div>
<div class="t nm" style="left:158px;top:1243px;width:31px;height:14px;">1.21</div>
<div class="t nm" style="left:190px;top:1243px;width:31px;height:14px;">1.17</div>
<div class="t nm gr" style="left:222px;top:1243px;width:30px;height:14px;">11.5</div>
<div class="t nm gr" style="left:253px;top:1243px;width:31px;height:14px;">10.8</div>
<div class="t nm" style="left:285px;top:1243px;width:31px;height:14px;">915</div>
<div class="t nm" style="left:317px;top:1243px;width:32px;height:14px;">860</div>
<div class="t nm" style="left:350px;top:1243px;width:35px;height:14px;"><span class="g">≥</span>17</div>
<div class="t nm" style="left:386px;top:1243px;width:35px;height:14px;"><span class="g">≥</span>1353</div>
<div class="t nm" style="left:422px;top:1243px;width:31px;height:14px;">35</div>
<div class="t nm" style="left:454px;top:1243px;width:32px;height:14px;">33</div>
<div class="t nm" style="left:487px;top:1243px;width:32px;height:14px;">279</div>
<div class="t nm" style="left:520px;top:1243px;width:31px;height:14px;">263</div>
<div class="t nm" style="left:552px;top:1243px;width:76px;height:14px;"><span class="g">≤</span>120</div>
<div class="t ix" style="left:44px;top:1258px;width:16px;height:14px;">22</div>
<div class="t gd" style="left:61px;top:1258px;width:33px;height:14px;">N38H</div>
<div class="t nm" style="left:95px;top:1258px;width:31px;height:14px;">12.6</div>
<div class="t nm" style="left:127px;top:1258px;width:30px;height:14px;">12.2</div>
<div class="t nm" style="left:158px;top:1258px;width:31px;height:14px;">1.26</div>
<div class="t nm" style="left:190px;top:1258px;width:31px;height:14px;">1.22</div>
<div class="t nm gr" style="left:222px;top:1258px;width:30px;height:14px;">12.0</div>
<div class="t nm gr" style="left:253px;top:1258px;width:31px;height:14px;">11.5</div>
<div class="t nm" style="left:285px;top:1258px;width:31px;height:14px;">955</div>
<div class="t nm" style="left:317px;top:1258px;width:32px;height:14px;">915</div>
<div class="t nm" style="left:350px;top:1258px;width:35px;height:14px;"><span class="g">≥</span>17</div>
<div class="t nm" style="left:386px;top:1258px;width:35px;height:14px;"><span class="g">≥</span>1353</div>
<div class="t nm" style="left:422px;top:1258px;width:31px;height:14px;">38</div>
<div class="t nm" style="left:454px;top:1258px;width:32px;height:14px;">36</div>
<div class="t nm" style="left:487px;top:1258px;width:32px;height:14px;">303</div>
<div class="t nm" style="left:520px;top:1258px;width:31px;height:14px;">287</div>
<div class="t nm" style="left:552px;top:1258px;width:76px;height:14px;"><span class="g">≤</span>120</div>
<div class="t ix" style="left:44px;top:1273px;width:16px;height:15px;">23</div>
<div class="t gd" style="left:61px;top:1273px;width:33px;height:15px;">N40H</div>
<div class="t nm" style="left:95px;top:1273px;width:31px;height:15px;">12.9</div>
<div class="t nm" style="left:127px;top:1273px;width:30px;height:15px;">12.6</div>
<div class="t nm" style="left:158px;top:1273px;width:31px;height:15px;">1.29</div>
<div class="t nm" style="left:190px;top:1273px;width:31px;height:15px;">1.26</div>
<div class="t nm gr" style="left:222px;top:1273px;width:30px;height:15px;">12.0</div>
<div class="t nm gr" style="left:253px;top:1273px;width:31px;height:15px;">11.5</div>
<div class="t nm" style="left:285px;top:1273px;width:31px;height:15px;">955</div>
<div class="t nm" style="left:317px;top:1273px;width:32px;height:15px;">915</div>
<div class="t nm" style="left:350px;top:1273px;width:35px;height:15px;"><span class="g">≥</span>17</div>
<div class="t nm" style="left:386px;top:1273px;width:35px;height:15px;"><span class="g">≥</span>1353</div>
<div class="t nm" style="left:422px;top:1273px;width:31px;height:15px;">40</div>
<div class="t nm" style="left:454px;top:1273px;width:32px;height:15px;">38</div>
<div class="t nm" style="left:487px;top:1273px;width:32px;height:15px;">318</div>
<div class="t nm" style="left:520px;top:1273px;width:31px;height:15px;">303</div>
<div class="t nm" style="left:552px;top:1273px;width:76px;height:15px;"><span class="g">≤</span>120</div>
<div class="t ix" style="left:44px;top:1289px;width:16px;height:14px;">24</div>
<div class="t gd" style="left:61px;top:1289px;width:33px;height:14px;">N42H</div>
<div class="t nm" style="left:95px;top:1289px;width:31px;height:14px;">13.2</div>
<div class="t nm" style="left:127px;top:1289px;width:30px;height:14px;">12.9</div>
<div class="t nm" style="left:158px;top:1289px;width:31px;height:14px;">1.32</div>
<div class="t nm" style="left:190px;top:1289px;width:31px;height:14px;">1.29</div>
<div class="t nm gr" style="left:222px;top:1289px;width:30px;height:14px;">12.0</div>
<div class="t nm gr" style="left:253px;top:1289px;width:31px;height:14px;">11.5</div>
<div class="t nm" style="left:285px;top:1289px;width:31px;height:14px;">955</div>
<div class="t nm" style="left:317px;top:1289px;width:32px;height:14px;">915</div>
<div class="t nm" style="left:350px;top:1289px;width:35px;height:14px;"><span class="g">≥</span>17</div>
<div class="t nm" style="left:386px;top:1289px;width:35px;height:14px;"><span class="g">≥</span>1353</div>
<div class="t nm" style="left:422px;top:1289px;width:31px;height:14px;">42</div>
<div class="t nm" style="left:454px;top:1289px;width:32px;height:14px;">40</div>
<div class="t nm" style="left:487px;top:1289px;width:32px;height:14px;">342</div>
<div class="t nm" style="left:520px;top:1289px;width:31px;height:14px;">326</div>
<div class="t nm" style="left:552px;top:1289px;width:76px;height:14px;"><span class="g">≤</span>120</div>
<div class="t ix" style="left:44px;top:1304px;width:16px;height:15px;">25</div>
<div class="t gd" style="left:61px;top:1304px;width:33px;height:15px;">N44H</div>
<div class="t nm" style="left:95px;top:1304px;width:31px;height:15px;">13.6</div>
<div class="t nm" style="left:127px;top:1304px;width:30px;height:15px;">13.2</div>
<div class="t nm" style="left:158px;top:1304px;width:31px;height:15px;">1.36</div>
<div class="t nm" style="left:190px;top:1304px;width:31px;height:15px;">1.32</div>
<div class="t nm gr" style="left:222px;top:1304px;width:30px;height:15px;">12.0</div>
<div class="t nm gr" style="left:253px;top:1304px;width:31px;height:15px;">11.5</div>
<div class="t nm" style="left:285px;top:1304px;width:31px;height:15px;">955</div>
<div class="t nm" style="left:317px;top:1304px;width:32px;height:15px;">915</div>
<div class="t nm" style="left:350px;top:1304px;width:35px;height:15px;"><span class="g">≥</span>17</div>
<div class="t nm" style="left:386px;top:1304px;width:35px;height:15px;"><span class="g">≥</span>1353</div>
<div class="t nm" style="left:422px;top:1304px;width:31px;height:15px;">44</div>
<div class="t nm" style="left:454px;top:1304px;width:32px;height:15px;">42</div>
<div class="t nm" style="left:487px;top:1304px;width:32px;height:15px;">358</div>
<div class="t nm" style="left:520px;top:1304px;width:31px;height:15px;">342</div>
<div class="t nm" style="left:552px;top:1304px;width:76px;height:15px;"><span class="g">≤</span>120</div>
<div class="t ix" style="left:44px;top:1320px;width:16px;height:14px;">26</div>
<div class="t gd" style="left:61px;top:1320px;width:33px;height:14px;">N27SH</div>
<div class="t nm" style="left:95px;top:1320px;width:31px;height:14px;">10.6</div>
<div class="t nm" style="left:127px;top:1320px;width:30px;height:14px;">10.2</div>
<div class="t nm" style="left:158px;top:1320px;width:31px;height:14px;">1.06</div>
<div class="t nm" style="left:190px;top:1320px;width:31px;height:14px;">1.02</div>
<div class="t nm gr" style="left:222px;top:1320px;width:30px;height:14px;">10.0</div>
<div class="t nm gr" style="left:253px;top:1320px;width:31px;height:14px;">9.3</div>
<div class="t nm" style="left:285px;top:1320px;width:31px;height:14px;">796</div>
<div class="t nm" style="left:317px;top:1320px;width:32px;height:14px;">740</div>
<div class="t nm" style="left:350px;top:1320px;width:35px;height:14px;"><span class="g">≥</span>20</div>
<div class="t nm" style="left:386px;top:1320px;width:35px;height:14px;"><span class="g">≥</span>1595</div>
<div class="t nm" style="left:422px;top:1320px;width:31px;height:14px;">27</div>
<div class="t nm" style="left:454px;top:1320px;width:32px;height:14px;">25</div>
<div class="t nm" style="left:487px;top:1320px;width:32px;height:14px;">315</div>
<div class="t nm" style="left:520px;top:1320px;width:31px;height:14px;">199</div>
<div class="t nm" style="left:552px;top:1320px;width:76px;height:14px;"><span class="g">≤</span>150</div>
<div class="t ix" style="left:44px;top:1335px;width:16px;height:14px;">27</div>
<div class="t gd" style="left:61px;top:1335px;width:33px;height:14px;">N30SH</div>
<div class="t nm" style="left:95px;top:1335px;width:31px;height:14px;">11.2</div>
<div class="t nm" style="left:127px;top:1335px;width:30px;height:14px;">10.8</div>
<div class="t nm" style="left:158px;top:1335px;width:31px;height:14px;">1.12</div>
<div class="t nm" style="left:190px;top:1335px;width:31px;height:14px;">1.08</div>
<div class="t nm gr" style="left:222px;top:1335px;width:30px;height:14px;">10.5</div>
<div class="t nm gr" style="left:253px;top:1335px;width:31px;height:14px;">9.8</div>
<div class="t nm" style="left:285px;top:1335px;width:31px;height:14px;">836</div>
<div class="t nm" style="left:317px;top:1335px;width:32px;height:14px;">780</div>
<div class="t nm" style="left:350px;top:1335px;width:35px;height:14px;"><span class="g">≥</span>20</div>
<div class="t nm" style="left:386px;top:1335px;width:35px;height:14px;"><span class="g">≥</span>1595</div>
<div class="t nm" style="left:422px;top:1335px;width:31px;height:14px;">30</div>
<div class="t nm" style="left:454px;top:1335px;width:32px;height:14px;">28</div>
<div class="t nm" style="left:487px;top:1335px;width:32px;height:14px;">239</div>
<div class="t nm" style="left:520px;top:1335px;width:31px;height:14px;">223</div>
<div class="t nm" style="left:552px;top:1335px;width:76px;height:14px;"><span class="g">≤</span>150</div>
<div class="t ix" style="left:44px;top:1350px;width:16px;height:15px;">28</div>
<div class="t gd" style="left:61px;top:1350px;width:33px;height:15px;">N33SH</div>
<div class="t nm" style="left:95px;top:1350px;width:31px;height:15px;">11.7</div>
<div class="t nm" style="left:127px;top:1350px;width:30px;height:15px;">11.4</div>
<div class="t nm" style="left:158px;top:1350px;width:31px;height:15px;">1.17</div>
<div class="t nm" style="left:190px;top:1350px;width:31px;height:15px;">1.14</div>
<div class="t nm gr" style="left:222px;top:1350px;width:30px;height:15px;">11.0</div>
<div class="t nm gr" style="left:253px;top:1350px;width:31px;height:15px;">10.3</div>
<div class="t nm" style="left:285px;top:1350px;width:31px;height:15px;">876</div>
<div class="t nm" style="left:317px;top:1350px;width:32px;height:15px;">820</div>
<div class="t nm" style="left:350px;top:1350px;width:35px;height:15px;"><span class="g">≥</span>20</div>
<div class="t nm" style="left:386px;top:1350px;width:35px;height:15px;"><span class="g">≥</span>1595</div>
<div class="t nm" style="left:422px;top:1350px;width:31px;height:15px;">33</div>
<div class="t nm" style="left:454px;top:1350px;width:32px;height:15px;">31</div>
<div class="t nm" style="left:487px;top:1350px;width:32px;height:15px;">263</div>
<div class="t nm" style="left:520px;top:1350px;width:31px;height:15px;">247</div>
<div class="t nm" style="left:552px;top:1350px;width:76px;height:15px;"><span class="g">≤</span>150</div>
<div class="t ix" style="left:44px;top:1366px;width:16px;height:14px;">29</div>
<div class="t gd" style="left:61px;top:1366px;width:33px;height:14px;">N35SH</div>
<div class="t nm" style="left:95px;top:1366px;width:31px;height:14px;">12.1</div>
<div class="t nm" style="left:127px;top:1366px;width:30px;height:14px;">11.7</div>
<div class="t nm" style="left:158px;top:1366px;width:31px;height:14px;">1.21</div>
<div class="t nm" style="left:190px;top:1366px;width:31px;height:14px;">1.17</div>
<div class="t nm gr" style="left:222px;top:1366px;width:30px;height:14px;">11.5</div>
<div class="t nm gr" style="left:253px;top:1366px;width:31px;height:14px;">10.8</div>
<div class="t nm" style="left:285px;top:1366px;width:31px;height:14px;">915</div>
<div class="t nm" style="left:317px;top:1366px;width:32px;height:14px;">860</div>
<div class="t nm" style="left:350px;top:1366px;width:35px;height:14px;"><span class="g">≥</span>20</div>
<div class="t nm" style="left:386px;top:1366px;width:35px;height:14px;"><span class="g">≥</span>1595</div>
<div class="t nm" style="left:422px;top:1366px;width:31px;height:14px;">35</div>
<div class="t nm" style="left:454px;top:1366px;width:32px;height:14px;">33</div>
<div class="t nm" style="left:487px;top:1366px;width:32px;height:14px;">279</div>
<div class="t nm" style="left:520px;top:1366px;width:31px;height:14px;">263</div>
<div class="t nm" style="left:552px;top:1366px;width:76px;height:14px;"><span class="g">≤</span>150</div>
<div class="t ix" style="left:44px;top:1381px;width:16px;height:15px;">30</div>
<div class="t gd" style="left:61px;top:1381px;width:33px;height:15px;">N38SH</div>
<div class="t nm" style="left:95px;top:1381px;width:31px;height:15px;">12.6</div>
<div class="t nm" style="left:127px;top:1381px;width:30px;height:15px;">12.2</div>
<div class="t nm" style="left:158px;top:1381px;width:31px;height:15px;">1.29</div>
<div class="t nm" style="left:190px;top:1381px;width:31px;height:15px;">1.22</div>
<div class="t nm gr" style="left:222px;top:1381px;width:30px;height:15px;">12.0</div>
<div class="t nm gr" style="left:253px;top:1381px;width:31px;height:15px;">11.7</div>
<div class="t nm" style="left:285px;top:1381px;width:31px;height:15px;">955</div>
<div class="t nm" style="left:317px;top:1381px;width:32px;height:15px;">930</div>
<div class="t nm" style="left:350px;top:1381px;width:35px;height:15px;"><span class="g">≥</span>20</div>
<div class="t nm" style="left:386px;top:1381px;width:35px;height:15px;"><span class="g">≥</span>1595</div>
<div class="t nm" style="left:422px;top:1381px;width:31px;height:15px;">38</div>
<div class="t nm" style="left:454px;top:1381px;width:32px;height:15px;">36</div>
<div class="t nm" style="left:487px;top:1381px;width:32px;height:15px;">302</div>
<div class="t nm" style="left:520px;top:1381px;width:31px;height:15px;">286</div>
<div class="t nm" style="left:552px;top:1381px;width:76px;height:15px;"><span class="g">≤</span>150</div>
<div class="t ix" style="left:44px;top:1397px;width:16px;height:14px;">31</div>
<div class="t gd" style="left:61px;top:1397px;width:33px;height:14px;">N40SH</div>
<div class="t nm" style="left:95px;top:1397px;width:31px;height:14px;">12.9</div>
<div class="t nm" style="left:127px;top:1397px;width:30px;height:14px;">12.6</div>
<div class="t nm" style="left:158px;top:1397px;width:31px;height:14px;">1.29</div>
<div class="t nm" style="left:190px;top:1397px;width:31px;height:14px;">1.26</div>
<div class="t nm gr" style="left:222px;top:1397px;width:30px;height:14px;">12.0</div>
<div class="t nm gr" style="left:253px;top:1397px;width:31px;height:14px;">11.7</div>
<div class="t nm" style="left:285px;top:1397px;width:31px;height:14px;">1011</div>
<div class="t nm" style="left:317px;top:1397px;width:32px;height:14px;">955</div>
<div class="t nm" style="left:350px;top:1397px;width:35px;height:14px;"><span class="g">≥</span>20</div>
<div class="t nm" style="left:386px;top:1397px;width:35px;height:14px;"><span class="g">≥</span>1595</div>
<div class="t nm" style="left:422px;top:1397px;width:31px;height:14px;">40</div>
<div class="t nm" style="left:454px;top:1397px;width:32px;height:14px;">38</div>
<div class="t nm" style="left:487px;top:1397px;width:32px;height:14px;">318</div>
<div class="t nm" style="left:520px;top:1397px;width:31px;height:14px;">303</div>
<div class="t nm" style="left:552px;top:1397px;width:76px;height:14px;"><span class="g">≤</span>150</div>
<div class="t ix" style="left:44px;top:1412px;width:16px;height:14px;">32</div>
<div class="t gd" style="left:61px;top:1412px;width:33px;height:14px;">N42SH</div>
<div class="t nm" style="left:95px;top:1412px;width:31px;height:14px;">13.2</div>
<div class="t nm" style="left:127px;top:1412px;width:30px;height:14px;">12.9</div>
<div class="t nm" style="left:158px;top:1412px;width:31px;height:14px;">1.32</div>
<div class="t nm" style="left:190px;top:1412px;width:31px;height:14px;">1.29</div>
<div class="t nm gr" style="left:222px;top:1412px;width:30px;height:14px;">12.0</div>
<div class="t nm gr" style="left:253px;top:1412px;width:31px;height:14px;">11.7</div>
<div class="t nm" style="left:285px;top:1412px;width:31px;height:14px;">1011</div>
<div class="t nm" style="left:317px;top:1412px;width:32px;height:14px;">955</div>
<div class="t nm" style="left:350px;top:1412px;width:35px;height:14px;"><span class="g">≥</span>20</div>
<div class="t nm" style="left:386px;top:1412px;width:35px;height:14px;"><span class="g">≥</span>1595</div>
<div class="t nm" style="left:422px;top:1412px;width:31px;height:14px;">42</div>
<div class="t nm" style="left:454px;top:1412px;width:32px;height:14px;">40</div>
<div class="t nm" style="left:487px;top:1412px;width:32px;height:14px;">342</div>
<div class="t nm" style="left:520px;top:1412px;width:31px;height:14px;">326</div>
<div class="t nm" style="left:552px;top:1412px;width:76px;height:14px;"><span class="g">≤</span>150</div>
<div class="t ix" style="left:44px;top:1427px;width:16px;height:15px;">33</div>
<div class="t gd" style="left:61px;top:1427px;width:33px;height:15px;">N25UH</div>
<div class="t nm" style="left:95px;top:1427px;width:31px;height:15px;">10.2</div>
<div class="t nm" style="left:127px;top:1427px;width:30px;height:15px;">9.8</div>
<div class="t nm" style="left:158px;top:1427px;width:31px;height:15px;">1.02</div>
<div class="t nm" style="left:190px;top:1427px;width:31px;height:15px;">0.98</div>
<div class="t nm gr" style="left:222px;top:1427px;width:30px;height:15px;">9.6</div>
<div class="t nm gr" style="left:253px;top:1427px;width:31px;height:15px;">9.2</div>
<div class="t nm" style="left:285px;top:1427px;width:31px;height:15px;">764</div>
<div class="t nm" style="left:317px;top:1427px;width:32px;height:15px;">732</div>
<div class="t nm" style="left:350px;top:1427px;width:35px;height:15px;"><span class="g">≥</span>25</div>
<div class="t nm" style="left:386px;top:1427px;width:35px;height:15px;"><span class="g">≥</span>1990</div>
<div class="t nm" style="left:422px;top:1427px;width:31px;height:15px;">25</div>
<div class="t nm" style="left:454px;top:1427px;width:32px;height:15px;">23</div>
<div class="t nm" style="left:487px;top:1427px;width:32px;height:15px;">199</div>
<div class="t nm" style="left:520px;top:1427px;width:31px;height:15px;">183</div>
<div class="t nm" style="left:552px;top:1427px;width:76px;height:15px;"><span class="g">≤</span>180</div>
<div class="t ix" style="left:44px;top:1443px;width:16px;height:14px;">34</div>
<div class="t gd" style="left:61px;top:1443px;width:33px;height:14px;">N28UH</div>
<div class="t nm" style="left:95px;top:1443px;width:31px;height:14px;">10.8</div>
<div class="t nm" style="left:127px;top:1443px;width:30px;height:14px;">10.4</div>
<div class="t nm" style="left:158px;top:1443px;width:31px;height:14px;">1.08</div>
<div class="t nm" style="left:190px;top:1443px;width:31px;height:14px;">1.04</div>
<div class="t nm gr" style="left:222px;top:1443px;width:30px;height:14px;">10.2</div>
<div class="t nm gr" style="left:253px;top:1443px;width:31px;height:14px;">9.8</div>
<div class="t nm" style="left:285px;top:1443px;width:31px;height:14px;">812</div>
<div class="t nm" style="left:317px;top:1443px;width:32px;height:14px;">780</div>
<div class="t nm" style="left:350px;top:1443px;width:35px;height:14px;"><span class="g">≥</span>25</div>
<div class="t nm" style="left:386px;top:1443px;width:35px;height:14px;"><span class="g">≥</span>1990</div>
<div class="t nm" style="left:422px;top:1443px;width:31px;height:14px;">28</div>
<div class="t nm" style="left:454px;top:1443px;width:32px;height:14px;">26</div>
<div class="t nm" style="left:487px;top:1443px;width:32px;height:14px;">223</div>
<div class="t nm" style="left:520px;top:1443px;width:31px;height:14px;">207</div>
<div class="t nm" style="left:552px;top:1443px;width:76px;height:14px;"><span class="g">≤</span>180</div>
<div class="t ix" style="left:44px;top:1458px;width:16px;height:15px;">35</div>
<div class="t gd" style="left:61px;top:1458px;width:33px;height:15px;">N30UH</div>
<div class="t nm" style="left:95px;top:1458px;width:31px;height:15px;">11.2</div>
<div class="t nm" style="left:127px;top:1458px;width:30px;height:15px;">10.8</div>
<div class="t nm" style="left:158px;top:1458px;width:31px;height:15px;">1.12</div>
<div class="t nm" style="left:190px;top:1458px;width:31px;height:15px;">1.08</div>
<div class="t nm gr" style="left:222px;top:1458px;width:30px;height:15px;">10.6</div>
<div class="t nm gr" style="left:253px;top:1458px;width:31px;height:15px;">10.1</div>
<div class="t nm" style="left:285px;top:1458px;width:31px;height:15px;">844</div>
<div class="t nm" style="left:317px;top:1458px;width:32px;height:15px;">804</div>
<div class="t nm" style="left:350px;top:1458px;width:35px;height:15px;"><span class="g">≥</span>25</div>
<div class="t nm" style="left:386px;top:1458px;width:35px;height:15px;"><span class="g">≥</span>1990</div>
<div class="t nm" style="left:422px;top:1458px;width:31px;height:15px;">30</div>
<div class="t nm" style="left:454px;top:1458px;width:32px;height:15px;">28</div>
<div class="t nm" style="left:487px;top:1458px;width:32px;height:15px;">239</div>
<div class="t nm" style="left:520px;top:1458px;width:31px;height:15px;">223</div>
<div class="t nm" style="left:552px;top:1458px;width:76px;height:15px;"><span class="g">≤</span>180</div>
<div class="t ix" style="left:44px;top:1474px;width:16px;height:14px;">36</div>
<div class="t gd" style="left:61px;top:1474px;width:33px;height:14px;">N33UH</div>
<div class="t nm" style="left:95px;top:1474px;width:31px;height:14px;">11.7</div>
<div class="t nm" style="left:127px;top:1474px;width:30px;height:14px;">11.4</div>
<div class="t nm" style="left:158px;top:1474px;width:31px;height:14px;">1.17</div>
<div class="t nm" style="left:190px;top:1474px;width:31px;height:14px;">1.14</div>
<div class="t nm gr" style="left:222px;top:1474px;width:30px;height:14px;">11.0</div>
<div class="t nm gr" style="left:253px;top:1474px;width:31px;height:14px;">10.4</div>
<div class="t nm" style="left:285px;top:1474px;width:31px;height:14px;">876</div>
<div class="t nm" style="left:317px;top:1474px;width:32px;height:14px;">844</div>
<div class="t nm" style="left:350px;top:1474px;width:35px;height:14px;"><span class="g">≥</span>25</div>
<div class="t nm" style="left:386px;top:1474px;width:35px;height:14px;"><span class="g">≥</span>1990</div>
<div class="t nm" style="left:422px;top:1474px;width:31px;height:14px;">33</div>
<div class="t nm" style="left:454px;top:1474px;width:32px;height:14px;">30</div>
<div class="t nm" style="left:487px;top:1474px;width:32px;height:14px;">263</div>
<div class="t nm" style="left:520px;top:1474px;width:31px;height:14px;">247</div>
<div class="t nm" style="left:552px;top:1474px;width:76px;height:14px;"><span class="g">≤</span>180</div>
<div class="t ix" style="left:44px;top:1489px;width:16px;height:14px;">37</div>
<div class="t gd" style="left:61px;top:1489px;width:33px;height:14px;">N35UH</div>
<div class="t nm" style="left:95px;top:1489px;width:31px;height:14px;">12.1</div>
<div class="t nm" style="left:127px;top:1489px;width:30px;height:14px;">11.7</div>
<div class="t nm" style="left:158px;top:1489px;width:31px;height:14px;">1.21</div>
<div class="t nm" style="left:190px;top:1489px;width:31px;height:14px;">1.17</div>
<div class="t nm gr" style="left:222px;top:1489px;width:30px;height:14px;">11.5</div>
<div class="t nm gr" style="left:253px;top:1489px;width:31px;height:14px;">10.8</div>
<div class="t nm" style="left:285px;top:1489px;width:31px;height:14px;">915</div>
<div class="t nm" style="left:317px;top:1489px;width:32px;height:14px;">860</div>
<div class="t nm" style="left:350px;top:1489px;width:35px;height:14px;"><span class="g">≥</span>25</div>
<div class="t nm" style="left:386px;top:1489px;width:35px;height:14px;"><span class="g">≥</span>1990</div>
<div class="t nm" style="left:422px;top:1489px;width:31px;height:14px;">35</div>
<div class="t nm" style="left:454px;top:1489px;width:32px;height:14px;">33</div>
<div class="t nm" style="left:487px;top:1489px;width:32px;height:14px;">279</div>
<div class="t nm" style="left:520px;top:1489px;width:31px;height:14px;">263</div>
<div class="t nm" style="left:552px;top:1489px;width:76px;height:14px;"><span class="g">≤</span>180</div>
<div class="t ix" style="left:44px;top:1504px;width:16px;height:15px;">38</div>
<div class="t gd" style="left:61px;top:1504px;width:33px;height:15px;">N38UH</div>
<div class="t nm" style="left:95px;top:1504px;width:31px;height:15px;">12.6</div>
<div class="t nm" style="left:127px;top:1504px;width:30px;height:15px;">12.2</div>
<div class="t nm" style="left:158px;top:1504px;width:31px;height:15px;">1.26</div>
<div class="t nm" style="left:190px;top:1504px;width:31px;height:15px;">1.22</div>
<div class="t nm gr" style="left:222px;top:1504px;width:30px;height:15px;">12.0</div>
<div class="t nm gr" style="left:253px;top:1504px;width:31px;height:15px;">11.7</div>
<div class="t nm" style="left:285px;top:1504px;width:31px;height:15px;">955</div>
<div class="t nm" style="left:317px;top:1504px;width:32px;height:15px;">930</div>
<div class="t nm" style="left:350px;top:1504px;width:35px;height:15px;"><span class="g">≥</span>25</div>
<div class="t nm" style="left:386px;top:1504px;width:35px;height:15px;"><span class="g">≥</span>1990</div>
<div class="t nm" style="left:422px;top:1504px;width:31px;height:15px;">38</div>
<div class="t nm" style="left:454px;top:1504px;width:32px;height:15px;">33</div>
<div class="t nm" style="left:487px;top:1504px;width:32px;height:15px;">302</div>
<div class="t nm" style="left:520px;top:1504px;width:31px;height:15px;">280</div>
<div class="t nm" style="left:552px;top:1504px;width:76px;height:15px;"><span class="g">≤</span>180</div>
<div class="t ix" style="left:44px;top:1520px;width:16px;height:14px;">39</div>
<div class="t gd" style="left:61px;top:1520px;width:33px;height:14px;">N30EH</div>
<div class="t nm" style="left:95px;top:1520px;width:31px;height:14px;">11.2</div>
<div class="t nm" style="left:127px;top:1520px;width:30px;height:14px;">10.8</div>
<div class="t nm" style="left:158px;top:1520px;width:31px;height:14px;">1.12</div>
<div class="t nm" style="left:190px;top:1520px;width:31px;height:14px;">1.08</div>
<div class="t nm gr" style="left:222px;top:1520px;width:30px;height:14px;">10.6</div>
<div class="t nm gr" style="left:253px;top:1520px;width:31px;height:14px;">10.1</div>
<div class="t nm" style="left:285px;top:1520px;width:31px;height:14px;">844</div>
<div class="t nm" style="left:317px;top:1520px;width:32px;height:14px;">804</div>
<div class="t nm" style="left:350px;top:1520px;width:35px;height:14px;"><span class="g">≥</span>30</div>
<div class="t nm" style="left:386px;top:1520px;width:35px;height:14px;"><span class="g">≥</span>2229</div>
<div class="t nm" style="left:422px;top:1520px;width:31px;height:14px;">30</div>
<div class="t nm" style="left:454px;top:1520px;width:32px;height:14px;">28</div>
<div class="t nm" style="left:487px;top:1520px;width:32px;height:14px;">239</div>
<div class="t nm" style="left:520px;top:1520px;width:31px;height:14px;">223</div>
<div class="t nm" style="left:552px;top:1520px;width:76px;height:14px;"><span class="g">≤</span>200</div>
<div class="t ix" style="left:44px;top:1535px;width:16px;height:15px;">40</div>
<div class="t gd" style="left:61px;top:1535px;width:33px;height:15px;">N33EH</div>
<div class="t nm" style="left:95px;top:1535px;width:31px;height:15px;">11.7</div>
<div class="t nm" style="left:127px;top:1535px;width:30px;height:15px;">11.4</div>
<div class="t nm" style="left:158px;top:1535px;width:31px;height:15px;">1.17</div>
<div class="t nm" style="left:190px;top:1535px;width:31px;height:15px;">1.14</div>
<div class="t nm gr" style="left:222px;top:1535px;width:30px;height:15px;">11.0</div>
<div class="t nm gr" style="left:253px;top:1535px;width:31px;height:15px;">10.4</div>
<div class="t nm" style="left:285px;top:1535px;width:31px;height:15px;">876</div>
<div class="t nm" style="left:317px;top:1535px;width:32px;height:15px;">844</div>
<div class="t nm" style="left:350px;top:1535px;width:35px;height:15px;"><span class="g">≥</span>30</div>
<div class="t nm" style="left:386px;top:1535px;width:35px;height:15px;"><span class="g">≥</span>2229</div>
<div class="t nm" style="left:422px;top:1535px;width:31px;height:15px;">33</div>
<div class="t nm" style="left:454px;top:1535px;width:32px;height:15px;">30</div>
<div class="t nm" style="left:487px;top:1535px;width:32px;height:15px;">263</div>
<div class="t nm" style="left:520px;top:1535px;width:31px;height:15px;">247</div>
<div class="t nm" style="left:552px;top:1535px;width:76px;height:15px;"><span class="g">≤</span>200</div>
<div class="t ix" style="left:44px;top:1551px;width:16px;height:14px;">41</div>
<div class="t gd" style="left:61px;top:1551px;width:33px;height:14px;">N35EH</div>
<div class="t nm" style="left:95px;top:1551px;width:31px;height:14px;">12.1</div>
<div class="t nm" style="left:127px;top:1551px;width:30px;height:14px;">11.7</div>
<div class="t nm" style="left:158px;top:1551px;width:31px;height:14px;">1.21</div>
<div class="t nm" style="left:190px;top:1551px;width:31px;height:14px;">1.17</div>
<div class="t nm gr" style="left:222px;top:1551px;width:30px;height:14px;">11.5</div>
<div class="t nm gr" style="left:253px;top:1551px;width:31px;height:14px;">10.8</div>
<div class="t nm" style="left:285px;top:1551px;width:31px;height:14px;">915</div>
<div class="t nm" style="left:317px;top:1551px;width:32px;height:14px;">860</div>
<div class="t nm" style="left:350px;top:1551px;width:35px;height:14px;"><span class="g">≥</span>30</div>
<div class="t nm" style="left:386px;top:1551px;width:35px;height:14px;"><span class="g">≥</span>2229</div>
<div class="t nm" style="left:422px;top:1551px;width:31px;height:14px;">35</div>
<div class="t nm" style="left:454px;top:1551px;width:32px;height:14px;">33</div>
<div class="t nm" style="left:487px;top:1551px;width:32px;height:14px;">279</div>
<div class="t nm" style="left:520px;top:1551px;width:31px;height:14px;">263</div>
<div class="t nm" style="left:552px;top:1551px;width:76px;height:14px;"><span class="g">≤</span>200</div>
</body></html>
